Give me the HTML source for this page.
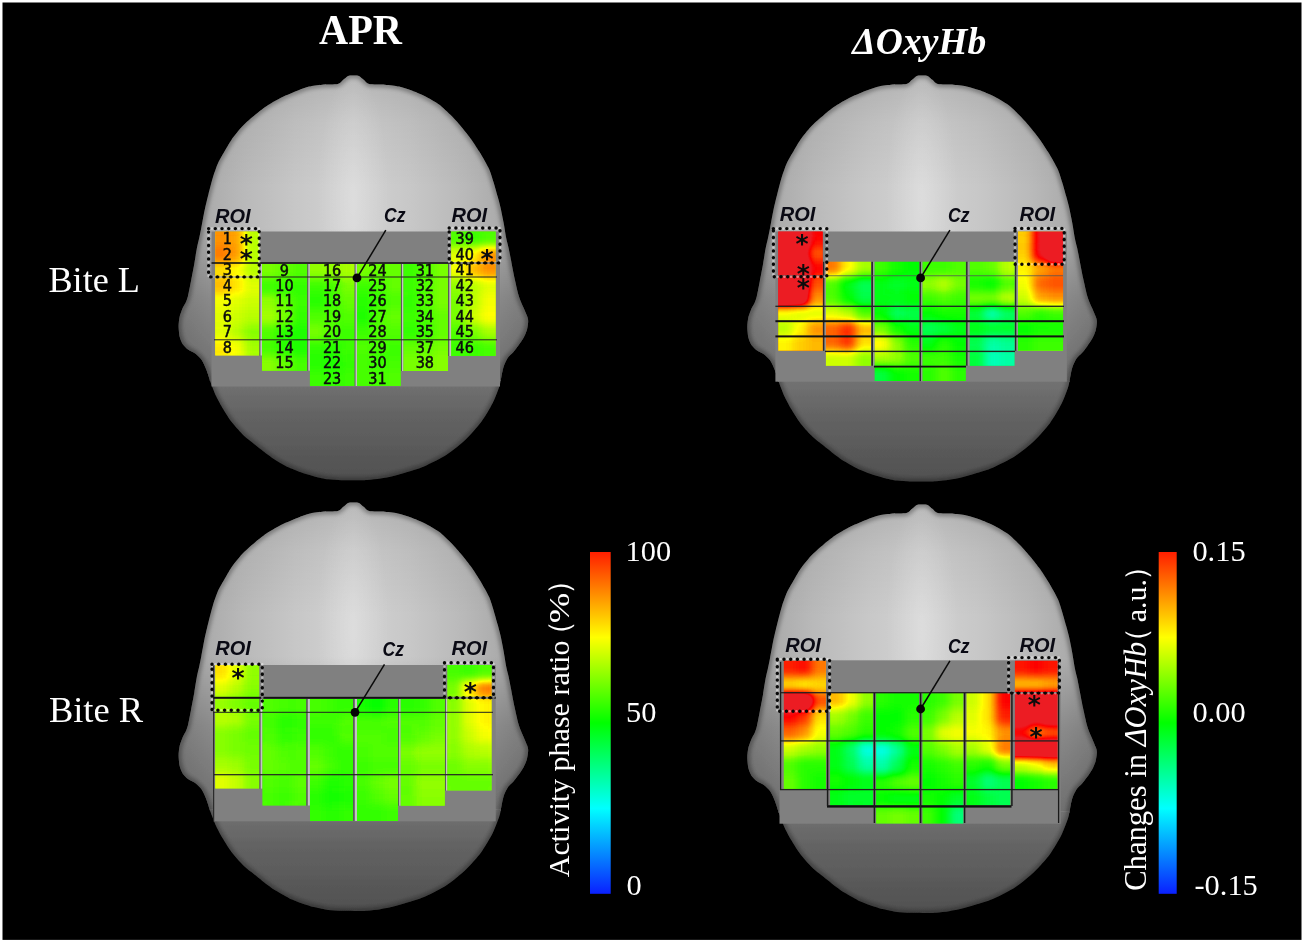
<!DOCTYPE html>
<html lang="en"><head><meta charset="utf-8"><title>APR and ΔOxyHb topographic maps</title>
<style>
html,body{margin:0;padding:0;background:#fff;}
body{width:1304px;height:943px;overflow:hidden;}
svg{display:block;}
.ser{font-family:"Liberation Serif","Times New Roman",serif;fill:#fff;}
.lab{font-family:"Liberation Sans",Arial,sans-serif;font-weight:bold;font-style:italic;font-size:20px;fill:#0a0a14;}
.num{font-family:"DejaVu Sans Condensed","DejaVu Sans","Liberation Sans",sans-serif;font-size:16px;fill:#0c0c0c;stroke:#0c0c0c;stroke-width:0.5px;text-anchor:middle;}
.star{font-family:"DejaVu Sans","Liberation Sans",sans-serif;font-size:25px;font-weight:bold;fill:#0c0c0c;text-anchor:middle;}
</style></head><body>
<svg width="1304" height="943" viewBox="0 0 1304 943">
<defs>
<path id="headshape" d="M353.5 75.4C354.9 75.4 357.6 75.3 358.9 75.9C360.2 76.5 362.7 79.0 364.0 80.0C365.3 81.0 366.5 83.4 369.1 84.0C371.7 84.6 381.3 84.4 385.0 84.7C388.7 85.0 395.8 85.9 399.0 86.6C402.2 87.3 407.8 89.1 411.0 90.3C414.2 91.5 421.0 94.2 424.5 96.0C428.0 97.8 435.6 102.0 439.0 104.5C442.4 107.0 448.8 113.2 451.7 116.1C454.6 119.0 459.7 124.9 462.1 127.8C464.6 130.7 469.2 136.6 471.3 139.5C473.4 142.4 477.4 148.6 479.1 151.3C480.8 154.0 483.5 158.7 484.8 161.0C486.1 163.3 488.4 167.4 489.5 170.0C490.6 172.6 492.5 178.8 493.5 182.0C494.5 185.2 496.6 192.9 497.5 196.0C498.4 199.1 499.6 203.6 500.4 206.9C501.2 210.2 502.9 218.7 503.6 222.6C504.3 226.5 505.6 234.8 506.2 238.0C506.8 241.2 508.0 245.1 508.6 248.0C509.2 250.9 510.5 257.4 511.2 261.1C511.9 264.9 513.6 273.9 514.5 278.0C515.4 282.1 517.4 291.0 518.2 294.0C519.0 297.0 520.3 300.3 521.0 302.0C521.7 303.7 522.9 306.1 523.6 307.8C524.3 309.5 526.3 314.0 526.9 315.6C527.5 317.2 528.2 319.1 528.2 320.9C528.2 322.7 527.5 327.9 526.9 330.0C526.3 332.1 524.7 335.9 523.6 337.8C522.5 339.8 519.7 343.8 518.4 345.6C517.1 347.4 514.5 350.7 513.2 352.2C511.9 353.7 509.1 355.8 508.0 357.4C506.9 359.0 504.8 363.2 504.1 365.2C503.4 367.1 502.5 371.0 502.1 373.0C501.7 375.0 501.0 379.2 500.6 381.0C500.2 382.8 500.0 384.7 499.0 387.5C498.0 390.3 494.9 398.8 492.7 403.1C490.5 407.4 484.6 417.6 481.2 422.1C477.8 426.6 470.2 435.2 465.9 439.3C461.6 443.4 452.1 451.2 446.9 454.6C441.7 458.0 429.1 464.3 424.0 466.5C418.9 468.7 410.3 471.1 406.5 472.3C402.7 473.5 396.7 475.2 393.4 476.0C390.1 476.8 383.7 478.1 380.4 478.6C377.1 479.1 370.6 479.8 367.3 480.0C364.0 480.2 357.2 480.3 354.0 480.3C350.8 480.3 344.5 480.3 341.3 480.2C338.1 480.1 331.5 479.7 328.2 479.3C324.9 478.9 318.4 477.5 315.2 476.7C311.9 475.9 305.5 473.9 302.2 472.8C298.9 471.7 292.4 469.2 289.1 467.6C285.8 466.1 279.4 462.5 276.1 460.4C272.8 458.3 266.1 453.4 263.0 451.0C259.9 448.6 253.6 443.6 251.0 441.5C248.4 439.4 244.6 436.3 242.2 433.9C239.8 431.5 234.1 425.2 231.7 422.1C229.3 419.0 225.1 412.4 223.2 409.1C221.2 405.9 217.7 399.5 216.1 396.1C214.5 392.7 211.7 385.3 210.5 382.0C209.3 378.7 207.4 372.2 206.3 369.5C205.2 366.8 203.1 362.0 201.7 360.0C200.3 358.0 196.9 354.8 195.2 353.5C193.5 352.2 189.6 350.6 188.0 349.5C186.4 348.4 183.9 345.9 182.8 344.3C181.8 342.7 180.1 338.8 179.6 336.5C179.1 334.2 178.6 328.5 178.6 326.1C178.6 323.7 179.1 319.3 179.6 317.0C180.1 314.7 182.1 309.6 182.8 307.8C183.5 306.1 184.8 304.5 185.5 303.0C186.2 301.5 187.3 298.8 188.0 296.0C188.7 293.2 190.3 284.6 191.1 280.6C191.9 276.6 193.6 267.8 194.3 263.7C195.0 259.6 196.3 251.2 196.9 248.0C197.5 244.8 198.6 240.5 199.2 238.0C199.8 235.5 200.6 231.2 201.3 227.8C202.0 224.4 203.6 215.0 204.5 210.8C205.4 206.6 207.4 198.1 208.5 193.9C209.6 189.7 212.1 180.0 213.0 177.0C213.9 174.0 214.7 171.9 215.4 170.0C216.1 168.1 217.4 164.2 218.5 162.0C219.6 159.8 222.2 155.4 223.9 152.6C225.6 149.8 229.4 142.8 231.7 139.5C234.0 136.2 239.3 129.6 242.2 126.5C245.1 123.4 251.9 117.5 255.2 114.8C258.4 112.1 264.8 107.2 268.2 105.0C271.6 102.8 278.3 99.0 282.0 97.2C285.7 95.4 294.6 91.8 298.0 90.5C301.4 89.2 306.1 87.3 309.1 86.6C312.1 85.9 318.6 85.0 322.2 84.7C325.8 84.4 335.2 84.6 337.8 84.0C340.4 83.4 341.7 81.0 343.0 80.0C344.3 79.0 346.8 76.5 348.1 75.9C349.4 75.3 352.1 75.4 353.5 75.4Z"/>
<clipPath id="headclip"><use href="#headshape"/></clipPath>
<linearGradient id="gbase" gradientUnits="userSpaceOnUse" x1="183" y1="0" x2="524" y2="0">
<stop offset="0" stop-color="#9e9e9e"/>
<stop offset="0.07" stop-color="#ababab"/>
<stop offset="0.18" stop-color="#b9b9b9"/>
<stop offset="0.33" stop-color="#c7c7c7"/>
<stop offset="0.5" stop-color="#d3d3d3"/>
<stop offset="0.67" stop-color="#c7c7c7"/>
<stop offset="0.82" stop-color="#b9b9b9"/>
<stop offset="0.93" stop-color="#ababab"/>
<stop offset="1" stop-color="#9e9e9e"/>
</linearGradient>
<linearGradient id="gtop" gradientUnits="userSpaceOnUse" x1="0" y1="75" x2="0" y2="235">
<stop offset="0" stop-color="#000" stop-opacity="0.13"/><stop offset="0.3" stop-color="#000" stop-opacity="0.05"/><stop offset="0.7" stop-color="#000" stop-opacity="0"/><stop offset="1" stop-color="#000" stop-opacity="0"/>
</linearGradient>
<linearGradient id="gside" gradientUnits="userSpaceOnUse" x1="0" y1="228" x2="0" y2="380">
<stop offset="0" stop-color="#000" stop-opacity="0"/><stop offset="0.45" stop-color="#000" stop-opacity="0.2"/><stop offset="1" stop-color="#000" stop-opacity="0.36"/>
</linearGradient>
<linearGradient id="glow" gradientUnits="userSpaceOnUse" x1="0" y1="380" x2="0" y2="481">
<stop offset="0" stop-color="#727272"/><stop offset="0.35" stop-color="#636363"/><stop offset="0.7" stop-color="#595959"/><stop offset="1" stop-color="#505050"/>
</linearGradient>
<radialGradient id="ghi" gradientUnits="userSpaceOnUse" cx="353" cy="200" r="100" gradientTransform="translate(353 200) scale(0.36 1.3) translate(-353 -200)">
<stop offset="0" stop-color="#fff" stop-opacity="0.22"/><stop offset="1" stop-color="#fff" stop-opacity="0"/></radialGradient>
<linearGradient id="gbar" x1="0" y1="0" x2="0" y2="1">
<stop offset="0" stop-color="#ff1e00"/>
<stop offset="0.25" stop-color="#ffff00"/>
<stop offset="0.5" stop-color="#00ff00"/>
<stop offset="0.75" stop-color="#00ffff"/>
<stop offset="1" stop-color="#0a20ff"/>
</linearGradient>
<filter id="bl" x="-30%" y="-30%" width="160%" height="160%" color-interpolation-filters="sRGB">
<feGaussianBlur stdDeviation="4.3"/>
<feComponentTransfer><feFuncR type="table" tableValues="0.000 0.000 0.000 0.000 0.000 0.000 0.000 0.000 0.000 0.000 0.000 0.200 0.400 0.600 0.800 1.000 1.000 1.000 1.000 1.000 0.996 0.929 0.929 0.929 0.929 0.929"/><feFuncG type="table" tableValues="0.000 0.200 0.400 0.600 0.800 1.000 1.000 1.000 1.000 1.000 1.000 1.000 1.000 1.000 1.000 1.000 0.800 0.600 0.400 0.200 0.000 0.110 0.110 0.110 0.110 0.110"/><feFuncB type="table" tableValues="1.000 1.000 1.000 1.000 1.000 1.000 0.800 0.600 0.400 0.200 0.000 0.000 0.000 0.000 0.000 0.000 0.000 0.000 0.000 0.000 0.000 0.141 0.141 0.141 0.141 0.141"/><feFuncA type="linear" slope="4" intercept="0"/></feComponentTransfer>
</filter>
<filter id="edge" x="-20%" y="-20%" width="140%" height="140%"><feGaussianBlur stdDeviation="2"/></filter>
<filter id="soft" x="-5%" y="-5%" width="110%" height="110%"><feGaussianBlur stdDeviation="0.6"/></filter>
<g id="head">
<g clip-path="url(#headclip)">
<rect x="170" y="70" width="370" height="311" fill="url(#gbase)"/>
<rect x="170" y="70" width="370" height="165" fill="url(#gtop)"/>
<rect x="170" y="70" width="370" height="310" fill="url(#ghi)"/>
<rect x="170" y="228" width="370" height="152" fill="url(#gside)"/>
<rect x="170" y="380" width="370" height="106" fill="url(#glow)"/>
<use href="#headshape" fill="none" stroke="#000" stroke-opacity="0.35" stroke-width="5" filter="url(#edge)"/>
</g>
</g>
</defs>
<rect x="0" y="0" width="1304" height="943" fill="#fff"/>
<rect x="2.5" y="2.5" width="1299" height="937.4" fill="#000"/>
<!-- h1 -->
<g filter="url(#soft)"><use href="#head" transform="translate(0.0 0.0) translate(0 75.5) scale(1 1.0000) translate(0 -75.5)"/></g>
<!-- h2 -->
<g filter="url(#soft)"><use href="#head" transform="translate(0.0 427.0) translate(0 75.5) scale(1 1.0090) translate(0 -75.5)"/></g>
<!-- h3 -->
<g filter="url(#soft)"><use href="#head" transform="translate(568.7 0.0) translate(0 75.5) scale(1 1.0030) translate(0 -75.5)"/></g>
<!-- h4 -->
<g filter="url(#soft)"><use href="#head" transform="translate(568.7 429.0) translate(0 75.5) scale(1 1.0090) translate(0 -75.5)"/></g>
<g id="h1-overlay">
<rect x="211.5" y="231.5" width="288.5" height="155.0" fill="#808080"/>
<rect x="259.2" y="264.0" width="1.3" height="91.5" fill="#5a5a5a"/>
<rect x="260.5" y="264.0" width="1.5" height="91.5" fill="#c4c4c4"/>
<rect x="307.1" y="264.0" width="1.3" height="106.7" fill="#5a5a5a"/>
<rect x="308.4" y="264.0" width="1.5" height="106.7" fill="#c4c4c4"/>
<rect x="354.4" y="264.0" width="1.2" height="122.0" fill="#5a5a5a"/>
<rect x="355.6" y="264.0" width="1.5" height="122.0" fill="#c4c4c4"/>
<rect x="400.7" y="264.0" width="1.3" height="107.0" fill="#5a5a5a"/>
<rect x="402.0" y="264.0" width="1.5" height="107.0" fill="#c4c4c4"/>
<rect x="448.0" y="264.0" width="1.4" height="92.0" fill="#5a5a5a"/>
<rect x="449.4" y="264.0" width="1.8" height="92.0" fill="#c4c4c4"/>
<clipPath id="c1"><rect x="215.2" y="231.5" width="44.0" height="124.0"/></clipPath>
<g clip-path="url(#c1)">
<rect x="215.2" y="231.5" width="44.0" height="124.0" fill="#f6ff00"/>
<g filter="url(#bl)">
<rect x="198.9" y="215.2" width="16.6" height="16.6" fill="#afafaf"/>
<rect x="214.9" y="215.2" width="15.3" height="16.6" fill="#afafaf"/>
<rect x="229.6" y="215.2" width="15.3" height="16.6" fill="#ababab"/>
<rect x="244.2" y="215.2" width="15.3" height="16.6" fill="#8b8b8b"/>
<rect x="258.9" y="215.2" width="16.6" height="16.6" fill="#8b8b8b"/>
<rect x="198.9" y="231.2" width="16.6" height="16.1" fill="#afafaf"/>
<rect x="214.9" y="231.2" width="15.3" height="16.1" fill="#afafaf"/>
<rect x="229.6" y="231.2" width="15.3" height="16.1" fill="#ababab"/>
<rect x="244.2" y="231.2" width="15.3" height="16.1" fill="#8b8b8b"/>
<rect x="258.9" y="231.2" width="16.6" height="16.1" fill="#8b8b8b"/>
<rect x="198.9" y="246.7" width="16.6" height="16.1" fill="#b4b4b4"/>
<rect x="214.9" y="246.7" width="15.3" height="16.1" fill="#b4b4b4"/>
<rect x="229.6" y="246.7" width="15.3" height="16.1" fill="#adadad"/>
<rect x="244.2" y="246.7" width="15.3" height="16.1" fill="#8b8b8b"/>
<rect x="258.9" y="246.7" width="16.6" height="16.1" fill="#8b8b8b"/>
<rect x="198.9" y="262.2" width="16.6" height="16.1" fill="#9f9f9f"/>
<rect x="214.9" y="262.2" width="15.3" height="16.1" fill="#9f9f9f"/>
<rect x="229.6" y="262.2" width="15.3" height="16.1" fill="#999999"/>
<rect x="244.2" y="262.2" width="15.3" height="16.1" fill="#8b8b8b"/>
<rect x="258.9" y="262.2" width="16.6" height="16.1" fill="#8b8b8b"/>
<rect x="198.9" y="277.7" width="16.6" height="16.1" fill="#a7a7a7"/>
<rect x="214.9" y="277.7" width="15.3" height="16.1" fill="#a7a7a7"/>
<rect x="229.6" y="277.7" width="15.3" height="16.1" fill="#9f9f9f"/>
<rect x="244.2" y="277.7" width="15.3" height="16.1" fill="#939393"/>
<rect x="258.9" y="277.7" width="16.6" height="16.1" fill="#939393"/>
<rect x="198.9" y="293.2" width="16.6" height="16.1" fill="#979797"/>
<rect x="214.9" y="293.2" width="15.3" height="16.1" fill="#979797"/>
<rect x="229.6" y="293.2" width="15.3" height="16.1" fill="#939393"/>
<rect x="244.2" y="293.2" width="15.3" height="16.1" fill="#8f8f8f"/>
<rect x="258.9" y="293.2" width="16.6" height="16.1" fill="#8f8f8f"/>
<rect x="198.9" y="308.7" width="16.6" height="16.1" fill="#939393"/>
<rect x="214.9" y="308.7" width="15.3" height="16.1" fill="#939393"/>
<rect x="229.6" y="308.7" width="15.3" height="16.1" fill="#8f8f8f"/>
<rect x="244.2" y="308.7" width="15.3" height="16.1" fill="#8b8b8b"/>
<rect x="258.9" y="308.7" width="16.6" height="16.1" fill="#8b8b8b"/>
<rect x="198.9" y="324.2" width="16.6" height="16.1" fill="#939393"/>
<rect x="214.9" y="324.2" width="15.3" height="16.1" fill="#939393"/>
<rect x="229.6" y="324.2" width="15.3" height="16.1" fill="#8b8b8b"/>
<rect x="244.2" y="324.2" width="15.3" height="16.1" fill="#818181"/>
<rect x="258.9" y="324.2" width="16.6" height="16.1" fill="#818181"/>
<rect x="198.9" y="339.7" width="16.6" height="16.1" fill="#9d9d9d"/>
<rect x="214.9" y="339.7" width="15.3" height="16.1" fill="#9d9d9d"/>
<rect x="229.6" y="339.7" width="15.3" height="16.1" fill="#979797"/>
<rect x="244.2" y="339.7" width="15.3" height="16.1" fill="#878787"/>
<rect x="258.9" y="339.7" width="16.6" height="16.1" fill="#878787"/>
<rect x="198.9" y="355.2" width="16.6" height="16.6" fill="#9d9d9d"/>
<rect x="214.9" y="355.2" width="15.3" height="16.6" fill="#9d9d9d"/>
<rect x="229.6" y="355.2" width="15.3" height="16.6" fill="#979797"/>
<rect x="244.2" y="355.2" width="15.3" height="16.6" fill="#878787"/>
<rect x="258.9" y="355.2" width="16.6" height="16.6" fill="#878787"/>
</g></g>
<clipPath id="c2"><rect x="262.0" y="264.0" width="45.1" height="106.7"/></clipPath>
<g clip-path="url(#c2)">
<rect x="262.0" y="264.0" width="45.1" height="106.7" fill="#52ff00"/>
<g filter="url(#bl)">
<rect x="245.7" y="247.7" width="16.6" height="16.6" fill="#7e7e7e"/>
<rect x="261.7" y="247.7" width="15.6" height="16.6" fill="#7e7e7e"/>
<rect x="276.7" y="247.7" width="15.6" height="16.6" fill="#7a7a7a"/>
<rect x="291.8" y="247.7" width="15.6" height="16.6" fill="#767676"/>
<rect x="306.8" y="247.7" width="16.6" height="16.6" fill="#767676"/>
<rect x="245.7" y="263.7" width="16.6" height="15.8" fill="#7e7e7e"/>
<rect x="261.7" y="263.7" width="15.6" height="15.8" fill="#7e7e7e"/>
<rect x="276.7" y="263.7" width="15.6" height="15.8" fill="#7a7a7a"/>
<rect x="291.8" y="263.7" width="15.6" height="15.8" fill="#767676"/>
<rect x="306.8" y="263.7" width="16.6" height="15.8" fill="#767676"/>
<rect x="245.7" y="278.9" width="16.6" height="15.8" fill="#727272"/>
<rect x="261.7" y="278.9" width="15.6" height="15.8" fill="#727272"/>
<rect x="276.7" y="278.9" width="15.6" height="15.8" fill="#707070"/>
<rect x="291.8" y="278.9" width="15.6" height="15.8" fill="#707070"/>
<rect x="306.8" y="278.9" width="16.6" height="15.8" fill="#707070"/>
<rect x="245.7" y="294.2" width="16.6" height="15.8" fill="#838383"/>
<rect x="261.7" y="294.2" width="15.6" height="15.8" fill="#838383"/>
<rect x="276.7" y="294.2" width="15.6" height="15.8" fill="#7a7a7a"/>
<rect x="291.8" y="294.2" width="15.6" height="15.8" fill="#727272"/>
<rect x="306.8" y="294.2" width="16.6" height="15.8" fill="#727272"/>
<rect x="245.7" y="309.4" width="16.6" height="15.8" fill="#878787"/>
<rect x="261.7" y="309.4" width="15.6" height="15.8" fill="#878787"/>
<rect x="276.7" y="309.4" width="15.6" height="15.8" fill="#7e7e7e"/>
<rect x="291.8" y="309.4" width="15.6" height="15.8" fill="#707070"/>
<rect x="306.8" y="309.4" width="16.6" height="15.8" fill="#707070"/>
<rect x="245.7" y="324.7" width="16.6" height="15.8" fill="#767676"/>
<rect x="261.7" y="324.7" width="15.6" height="15.8" fill="#767676"/>
<rect x="276.7" y="324.7" width="15.6" height="15.8" fill="#6e6e6e"/>
<rect x="291.8" y="324.7" width="15.6" height="15.8" fill="#6c6c6c"/>
<rect x="306.8" y="324.7" width="16.6" height="15.8" fill="#6c6c6c"/>
<rect x="245.7" y="339.9" width="16.6" height="15.8" fill="#747474"/>
<rect x="261.7" y="339.9" width="15.6" height="15.8" fill="#747474"/>
<rect x="276.7" y="339.9" width="15.6" height="15.8" fill="#6e6e6e"/>
<rect x="291.8" y="339.9" width="15.6" height="15.8" fill="#6c6c6c"/>
<rect x="306.8" y="339.9" width="16.6" height="15.8" fill="#6c6c6c"/>
<rect x="245.7" y="355.2" width="16.6" height="15.8" fill="#818181"/>
<rect x="261.7" y="355.2" width="15.6" height="15.8" fill="#818181"/>
<rect x="276.7" y="355.2" width="15.6" height="15.8" fill="#7a7a7a"/>
<rect x="291.8" y="355.2" width="15.6" height="15.8" fill="#747474"/>
<rect x="306.8" y="355.2" width="16.6" height="15.8" fill="#747474"/>
<rect x="245.7" y="370.4" width="16.6" height="16.6" fill="#818181"/>
<rect x="261.7" y="370.4" width="15.6" height="16.6" fill="#818181"/>
<rect x="276.7" y="370.4" width="15.6" height="16.6" fill="#7a7a7a"/>
<rect x="291.8" y="370.4" width="15.6" height="16.6" fill="#747474"/>
<rect x="306.8" y="370.4" width="16.6" height="16.6" fill="#747474"/>
</g></g>
<clipPath id="c3"><rect x="309.9" y="264.0" width="44.5" height="122.0"/></clipPath>
<g clip-path="url(#c3)">
<rect x="309.9" y="264.0" width="44.5" height="122.0" fill="#4eff00"/>
<g filter="url(#bl)">
<rect x="293.6" y="247.7" width="16.6" height="16.6" fill="#838383"/>
<rect x="309.6" y="247.7" width="15.4" height="16.6" fill="#838383"/>
<rect x="324.4" y="247.7" width="15.4" height="16.6" fill="#838383"/>
<rect x="339.3" y="247.7" width="15.4" height="16.6" fill="#878787"/>
<rect x="354.1" y="247.7" width="16.6" height="16.6" fill="#878787"/>
<rect x="293.6" y="263.7" width="16.6" height="15.8" fill="#838383"/>
<rect x="309.6" y="263.7" width="15.4" height="15.8" fill="#838383"/>
<rect x="324.4" y="263.7" width="15.4" height="15.8" fill="#838383"/>
<rect x="339.3" y="263.7" width="15.4" height="15.8" fill="#878787"/>
<rect x="354.1" y="263.7" width="16.6" height="15.8" fill="#878787"/>
<rect x="293.6" y="278.9" width="16.6" height="15.8" fill="#727272"/>
<rect x="309.6" y="278.9" width="15.4" height="15.8" fill="#727272"/>
<rect x="324.4" y="278.9" width="15.4" height="15.8" fill="#747474"/>
<rect x="339.3" y="278.9" width="15.4" height="15.8" fill="#7e7e7e"/>
<rect x="354.1" y="278.9" width="16.6" height="15.8" fill="#7e7e7e"/>
<rect x="293.6" y="294.2" width="16.6" height="15.8" fill="#6e6e6e"/>
<rect x="309.6" y="294.2" width="15.4" height="15.8" fill="#6e6e6e"/>
<rect x="324.4" y="294.2" width="15.4" height="15.8" fill="#727272"/>
<rect x="339.3" y="294.2" width="15.4" height="15.8" fill="#7a7a7a"/>
<rect x="354.1" y="294.2" width="16.6" height="15.8" fill="#7a7a7a"/>
<rect x="293.6" y="309.4" width="16.6" height="15.8" fill="#767676"/>
<rect x="309.6" y="309.4" width="15.4" height="15.8" fill="#767676"/>
<rect x="324.4" y="309.4" width="15.4" height="15.8" fill="#767676"/>
<rect x="339.3" y="309.4" width="15.4" height="15.8" fill="#767676"/>
<rect x="354.1" y="309.4" width="16.6" height="15.8" fill="#767676"/>
<rect x="293.6" y="324.7" width="16.6" height="15.8" fill="#7e7e7e"/>
<rect x="309.6" y="324.7" width="15.4" height="15.8" fill="#7e7e7e"/>
<rect x="324.4" y="324.7" width="15.4" height="15.8" fill="#767676"/>
<rect x="339.3" y="324.7" width="15.4" height="15.8" fill="#727272"/>
<rect x="354.1" y="324.7" width="16.6" height="15.8" fill="#727272"/>
<rect x="293.6" y="339.9" width="16.6" height="15.8" fill="#707070"/>
<rect x="309.6" y="339.9" width="15.4" height="15.8" fill="#707070"/>
<rect x="324.4" y="339.9" width="15.4" height="15.8" fill="#6e6e6e"/>
<rect x="339.3" y="339.9" width="15.4" height="15.8" fill="#727272"/>
<rect x="354.1" y="339.9" width="16.6" height="15.8" fill="#727272"/>
<rect x="293.6" y="355.2" width="16.6" height="15.8" fill="#6e6e6e"/>
<rect x="309.6" y="355.2" width="15.4" height="15.8" fill="#6e6e6e"/>
<rect x="324.4" y="355.2" width="15.4" height="15.8" fill="#6c6c6c"/>
<rect x="339.3" y="355.2" width="15.4" height="15.8" fill="#707070"/>
<rect x="354.1" y="355.2" width="16.6" height="15.8" fill="#707070"/>
<rect x="293.6" y="370.4" width="16.6" height="15.8" fill="#727272"/>
<rect x="309.6" y="370.4" width="15.4" height="15.8" fill="#727272"/>
<rect x="324.4" y="370.4" width="15.4" height="15.8" fill="#707070"/>
<rect x="339.3" y="370.4" width="15.4" height="15.8" fill="#727272"/>
<rect x="354.1" y="370.4" width="16.6" height="15.8" fill="#727272"/>
<rect x="293.6" y="385.7" width="16.6" height="16.6" fill="#727272"/>
<rect x="309.6" y="385.7" width="15.4" height="16.6" fill="#727272"/>
<rect x="324.4" y="385.7" width="15.4" height="16.6" fill="#707070"/>
<rect x="339.3" y="385.7" width="15.4" height="16.6" fill="#727272"/>
<rect x="354.1" y="385.7" width="16.6" height="16.6" fill="#727272"/>
</g></g>
<clipPath id="c4"><rect x="357.1" y="264.0" width="43.6" height="122.0"/></clipPath>
<g clip-path="url(#c4)">
<rect x="357.1" y="264.0" width="43.6" height="122.0" fill="#4cff00"/>
<g filter="url(#bl)">
<rect x="340.8" y="247.7" width="16.6" height="16.6" fill="#7e7e7e"/>
<rect x="356.8" y="247.7" width="15.1" height="16.6" fill="#7e7e7e"/>
<rect x="371.3" y="247.7" width="15.1" height="16.6" fill="#7a7a7a"/>
<rect x="385.9" y="247.7" width="15.1" height="16.6" fill="#7a7a7a"/>
<rect x="400.4" y="247.7" width="16.6" height="16.6" fill="#7a7a7a"/>
<rect x="340.8" y="263.7" width="16.6" height="15.8" fill="#7e7e7e"/>
<rect x="356.8" y="263.7" width="15.1" height="15.8" fill="#7e7e7e"/>
<rect x="371.3" y="263.7" width="15.1" height="15.8" fill="#7a7a7a"/>
<rect x="385.9" y="263.7" width="15.1" height="15.8" fill="#7a7a7a"/>
<rect x="400.4" y="263.7" width="16.6" height="15.8" fill="#7a7a7a"/>
<rect x="340.8" y="278.9" width="16.6" height="15.8" fill="#727272"/>
<rect x="356.8" y="278.9" width="15.1" height="15.8" fill="#727272"/>
<rect x="371.3" y="278.9" width="15.1" height="15.8" fill="#747474"/>
<rect x="385.9" y="278.9" width="15.1" height="15.8" fill="#7a7a7a"/>
<rect x="400.4" y="278.9" width="16.6" height="15.8" fill="#7a7a7a"/>
<rect x="340.8" y="294.2" width="16.6" height="15.8" fill="#6e6e6e"/>
<rect x="356.8" y="294.2" width="15.1" height="15.8" fill="#6e6e6e"/>
<rect x="371.3" y="294.2" width="15.1" height="15.8" fill="#727272"/>
<rect x="385.9" y="294.2" width="15.1" height="15.8" fill="#767676"/>
<rect x="400.4" y="294.2" width="16.6" height="15.8" fill="#767676"/>
<rect x="340.8" y="309.4" width="16.6" height="15.8" fill="#6c6c6c"/>
<rect x="356.8" y="309.4" width="15.1" height="15.8" fill="#6c6c6c"/>
<rect x="371.3" y="309.4" width="15.1" height="15.8" fill="#767676"/>
<rect x="385.9" y="309.4" width="15.1" height="15.8" fill="#7a7a7a"/>
<rect x="400.4" y="309.4" width="16.6" height="15.8" fill="#7a7a7a"/>
<rect x="340.8" y="324.7" width="16.6" height="15.8" fill="#727272"/>
<rect x="356.8" y="324.7" width="15.1" height="15.8" fill="#727272"/>
<rect x="371.3" y="324.7" width="15.1" height="15.8" fill="#767676"/>
<rect x="385.9" y="324.7" width="15.1" height="15.8" fill="#767676"/>
<rect x="400.4" y="324.7" width="16.6" height="15.8" fill="#767676"/>
<rect x="340.8" y="339.9" width="16.6" height="15.8" fill="#767676"/>
<rect x="356.8" y="339.9" width="15.1" height="15.8" fill="#767676"/>
<rect x="371.3" y="339.9" width="15.1" height="15.8" fill="#747474"/>
<rect x="385.9" y="339.9" width="15.1" height="15.8" fill="#727272"/>
<rect x="400.4" y="339.9" width="16.6" height="15.8" fill="#727272"/>
<rect x="340.8" y="355.2" width="16.6" height="15.8" fill="#747474"/>
<rect x="356.8" y="355.2" width="15.1" height="15.8" fill="#747474"/>
<rect x="371.3" y="355.2" width="15.1" height="15.8" fill="#727272"/>
<rect x="385.9" y="355.2" width="15.1" height="15.8" fill="#747474"/>
<rect x="400.4" y="355.2" width="16.6" height="15.8" fill="#747474"/>
<rect x="340.8" y="370.4" width="16.6" height="15.8" fill="#747474"/>
<rect x="356.8" y="370.4" width="15.1" height="15.8" fill="#747474"/>
<rect x="371.3" y="370.4" width="15.1" height="15.8" fill="#747474"/>
<rect x="385.9" y="370.4" width="15.1" height="15.8" fill="#767676"/>
<rect x="400.4" y="370.4" width="16.6" height="15.8" fill="#767676"/>
<rect x="340.8" y="385.7" width="16.6" height="16.6" fill="#747474"/>
<rect x="356.8" y="385.7" width="15.1" height="16.6" fill="#747474"/>
<rect x="371.3" y="385.7" width="15.1" height="16.6" fill="#747474"/>
<rect x="385.9" y="385.7" width="15.1" height="16.6" fill="#767676"/>
<rect x="400.4" y="385.7" width="16.6" height="16.6" fill="#767676"/>
</g></g>
<clipPath id="c5"><rect x="403.5" y="264.0" width="44.5" height="107.0"/></clipPath>
<g clip-path="url(#c5)">
<rect x="403.5" y="264.0" width="44.5" height="107.0" fill="#5cff00"/>
<g filter="url(#bl)">
<rect x="387.2" y="247.7" width="16.6" height="16.6" fill="#727272"/>
<rect x="403.2" y="247.7" width="15.4" height="16.6" fill="#727272"/>
<rect x="418.0" y="247.7" width="15.4" height="16.6" fill="#767676"/>
<rect x="432.9" y="247.7" width="15.4" height="16.6" fill="#7e7e7e"/>
<rect x="447.7" y="247.7" width="16.6" height="16.6" fill="#7e7e7e"/>
<rect x="387.2" y="263.7" width="16.6" height="15.9" fill="#727272"/>
<rect x="403.2" y="263.7" width="15.4" height="15.9" fill="#727272"/>
<rect x="418.0" y="263.7" width="15.4" height="15.9" fill="#767676"/>
<rect x="432.9" y="263.7" width="15.4" height="15.9" fill="#7e7e7e"/>
<rect x="447.7" y="263.7" width="16.6" height="15.9" fill="#7e7e7e"/>
<rect x="387.2" y="279.0" width="16.6" height="15.9" fill="#727272"/>
<rect x="403.2" y="279.0" width="15.4" height="15.9" fill="#727272"/>
<rect x="418.0" y="279.0" width="15.4" height="15.9" fill="#767676"/>
<rect x="432.9" y="279.0" width="15.4" height="15.9" fill="#7e7e7e"/>
<rect x="447.7" y="279.0" width="16.6" height="15.9" fill="#7e7e7e"/>
<rect x="387.2" y="294.3" width="16.6" height="15.9" fill="#707070"/>
<rect x="403.2" y="294.3" width="15.4" height="15.9" fill="#707070"/>
<rect x="418.0" y="294.3" width="15.4" height="15.9" fill="#767676"/>
<rect x="432.9" y="294.3" width="15.4" height="15.9" fill="#7e7e7e"/>
<rect x="447.7" y="294.3" width="16.6" height="15.9" fill="#7e7e7e"/>
<rect x="387.2" y="309.6" width="16.6" height="15.9" fill="#727272"/>
<rect x="403.2" y="309.6" width="15.4" height="15.9" fill="#727272"/>
<rect x="418.0" y="309.6" width="15.4" height="15.9" fill="#747474"/>
<rect x="432.9" y="309.6" width="15.4" height="15.9" fill="#7a7a7a"/>
<rect x="447.7" y="309.6" width="16.6" height="15.9" fill="#7a7a7a"/>
<rect x="387.2" y="324.8" width="16.6" height="15.9" fill="#707070"/>
<rect x="403.2" y="324.8" width="15.4" height="15.9" fill="#707070"/>
<rect x="418.0" y="324.8" width="15.4" height="15.9" fill="#727272"/>
<rect x="432.9" y="324.8" width="15.4" height="15.9" fill="#7a7a7a"/>
<rect x="447.7" y="324.8" width="16.6" height="15.9" fill="#7a7a7a"/>
<rect x="387.2" y="340.1" width="16.6" height="15.9" fill="#7a7a7a"/>
<rect x="403.2" y="340.1" width="15.4" height="15.9" fill="#7a7a7a"/>
<rect x="418.0" y="340.1" width="15.4" height="15.9" fill="#7a7a7a"/>
<rect x="432.9" y="340.1" width="15.4" height="15.9" fill="#7e7e7e"/>
<rect x="447.7" y="340.1" width="16.6" height="15.9" fill="#7e7e7e"/>
<rect x="387.2" y="355.4" width="16.6" height="15.9" fill="#7e7e7e"/>
<rect x="403.2" y="355.4" width="15.4" height="15.9" fill="#7e7e7e"/>
<rect x="418.0" y="355.4" width="15.4" height="15.9" fill="#7e7e7e"/>
<rect x="432.9" y="355.4" width="15.4" height="15.9" fill="#818181"/>
<rect x="447.7" y="355.4" width="16.6" height="15.9" fill="#818181"/>
<rect x="387.2" y="370.7" width="16.6" height="16.6" fill="#7e7e7e"/>
<rect x="403.2" y="370.7" width="15.4" height="16.6" fill="#7e7e7e"/>
<rect x="418.0" y="370.7" width="15.4" height="16.6" fill="#7e7e7e"/>
<rect x="432.9" y="370.7" width="15.4" height="16.6" fill="#818181"/>
<rect x="447.7" y="370.7" width="16.6" height="16.6" fill="#818181"/>
</g></g>
<clipPath id="c6"><rect x="451.2" y="231.5" width="44.5" height="124.5"/></clipPath>
<g clip-path="url(#c6)">
<rect x="451.2" y="231.5" width="44.5" height="124.5" fill="#b2ff00"/>
<g filter="url(#bl)">
<rect x="434.9" y="215.2" width="16.6" height="16.6" fill="#767676"/>
<rect x="450.9" y="215.2" width="15.4" height="16.6" fill="#767676"/>
<rect x="465.7" y="215.2" width="15.4" height="16.6" fill="#727272"/>
<rect x="480.6" y="215.2" width="15.4" height="16.6" fill="#767676"/>
<rect x="495.4" y="215.2" width="16.6" height="16.6" fill="#767676"/>
<rect x="434.9" y="231.2" width="16.6" height="16.2" fill="#767676"/>
<rect x="450.9" y="231.2" width="15.4" height="16.2" fill="#767676"/>
<rect x="465.7" y="231.2" width="15.4" height="16.2" fill="#727272"/>
<rect x="480.6" y="231.2" width="15.4" height="16.2" fill="#767676"/>
<rect x="495.4" y="231.2" width="16.6" height="16.2" fill="#767676"/>
<rect x="434.9" y="246.8" width="16.6" height="16.2" fill="#939393"/>
<rect x="450.9" y="246.8" width="15.4" height="16.2" fill="#939393"/>
<rect x="465.7" y="246.8" width="15.4" height="16.2" fill="#9b9b9b"/>
<rect x="480.6" y="246.8" width="15.4" height="16.2" fill="#afafaf"/>
<rect x="495.4" y="246.8" width="16.6" height="16.2" fill="#afafaf"/>
<rect x="434.9" y="262.3" width="16.6" height="16.2" fill="#979797"/>
<rect x="450.9" y="262.3" width="15.4" height="16.2" fill="#979797"/>
<rect x="465.7" y="262.3" width="15.4" height="16.2" fill="#a7a7a7"/>
<rect x="480.6" y="262.3" width="15.4" height="16.2" fill="#afafaf"/>
<rect x="495.4" y="262.3" width="16.6" height="16.2" fill="#afafaf"/>
<rect x="434.9" y="277.9" width="16.6" height="16.2" fill="#838383"/>
<rect x="450.9" y="277.9" width="15.4" height="16.2" fill="#838383"/>
<rect x="465.7" y="277.9" width="15.4" height="16.2" fill="#8b8b8b"/>
<rect x="480.6" y="277.9" width="15.4" height="16.2" fill="#939393"/>
<rect x="495.4" y="277.9" width="16.6" height="16.2" fill="#939393"/>
<rect x="434.9" y="293.4" width="16.6" height="16.2" fill="#7e7e7e"/>
<rect x="450.9" y="293.4" width="15.4" height="16.2" fill="#7e7e7e"/>
<rect x="465.7" y="293.4" width="15.4" height="16.2" fill="#8b8b8b"/>
<rect x="480.6" y="293.4" width="15.4" height="16.2" fill="#979797"/>
<rect x="495.4" y="293.4" width="16.6" height="16.2" fill="#979797"/>
<rect x="434.9" y="309.0" width="16.6" height="16.2" fill="#7e7e7e"/>
<rect x="450.9" y="309.0" width="15.4" height="16.2" fill="#7e7e7e"/>
<rect x="465.7" y="309.0" width="15.4" height="16.2" fill="#8f8f8f"/>
<rect x="480.6" y="309.0" width="15.4" height="16.2" fill="#999999"/>
<rect x="495.4" y="309.0" width="16.6" height="16.2" fill="#999999"/>
<rect x="434.9" y="324.6" width="16.6" height="16.2" fill="#767676"/>
<rect x="450.9" y="324.6" width="15.4" height="16.2" fill="#767676"/>
<rect x="465.7" y="324.6" width="15.4" height="16.2" fill="#7e7e7e"/>
<rect x="480.6" y="324.6" width="15.4" height="16.2" fill="#878787"/>
<rect x="495.4" y="324.6" width="16.6" height="16.2" fill="#878787"/>
<rect x="434.9" y="340.1" width="16.6" height="16.2" fill="#727272"/>
<rect x="450.9" y="340.1" width="15.4" height="16.2" fill="#727272"/>
<rect x="465.7" y="340.1" width="15.4" height="16.2" fill="#727272"/>
<rect x="480.6" y="340.1" width="15.4" height="16.2" fill="#747474"/>
<rect x="495.4" y="340.1" width="16.6" height="16.2" fill="#747474"/>
<rect x="434.9" y="355.7" width="16.6" height="16.6" fill="#727272"/>
<rect x="450.9" y="355.7" width="15.4" height="16.6" fill="#727272"/>
<rect x="465.7" y="355.7" width="15.4" height="16.6" fill="#727272"/>
<rect x="480.6" y="355.7" width="15.4" height="16.6" fill="#747474"/>
<rect x="495.4" y="355.7" width="16.6" height="16.6" fill="#747474"/>
</g></g>
<rect x="211.5" y="262.20" width="288.5" height="1.60" fill="#151515"/>
<rect x="211.5" y="276.50" width="285.5" height="1.00" fill="#222"/>
<rect x="214.0" y="339.30" width="283.0" height="1.00" fill="#222"/>
<text class="num" x="227.3" y="244.4">1</text>
<text class="num" x="227.3" y="259.8">2</text>
<text class="num" x="227.3" y="275.3">3</text>
<text class="num" x="227.3" y="290.8">4</text>
<text class="num" x="227.3" y="306.2">5</text>
<text class="num" x="227.3" y="321.7">6</text>
<text class="num" x="227.3" y="337.1">7</text>
<text class="num" x="227.3" y="352.6">8</text>
<text class="num" x="284.4" y="275.5">9</text>
<text class="num" x="284.4" y="290.9">10</text>
<text class="num" x="284.4" y="306.4">11</text>
<text class="num" x="284.4" y="321.8">12</text>
<text class="num" x="284.4" y="337.3">13</text>
<text class="num" x="284.4" y="352.8">14</text>
<text class="num" x="284.4" y="368.2">15</text>
<text class="num" x="332.1" y="275.5">16</text>
<text class="num" x="332.1" y="290.9">17</text>
<text class="num" x="332.1" y="306.4">18</text>
<text class="num" x="332.1" y="321.8">19</text>
<text class="num" x="332.1" y="337.3">20</text>
<text class="num" x="332.1" y="352.8">21</text>
<text class="num" x="332.1" y="368.2">22</text>
<text class="num" x="332.1" y="383.6">23</text>
<text class="num" x="377.5" y="275.5">24</text>
<text class="num" x="377.5" y="290.9">25</text>
<text class="num" x="377.5" y="306.4">26</text>
<text class="num" x="377.5" y="321.8">27</text>
<text class="num" x="377.5" y="337.3">28</text>
<text class="num" x="377.5" y="352.8">29</text>
<text class="num" x="377.5" y="368.2">30</text>
<text class="num" x="377.5" y="383.6">31</text>
<text class="num" x="424.8" y="275.5">31</text>
<text class="num" x="424.8" y="290.9">32</text>
<text class="num" x="424.8" y="306.4">33</text>
<text class="num" x="424.8" y="321.8">34</text>
<text class="num" x="424.8" y="337.3">35</text>
<text class="num" x="424.8" y="352.8">37</text>
<text class="num" x="424.8" y="368.2">38</text>
<text class="num" x="464.7" y="244.4">39</text>
<text class="num" x="464.7" y="259.8">40</text>
<text class="num" x="464.7" y="275.3">41</text>
<text class="num" x="464.7" y="290.8">42</text>
<text class="num" x="464.7" y="306.2">43</text>
<text class="num" x="464.7" y="321.7">44</text>
<text class="num" x="464.7" y="337.1">45</text>
<text class="num" x="464.7" y="352.6">46</text>
<rect x="208.6" y="228.6" width="50.6" height="48.3" fill="none" stroke="#fff" stroke-opacity="0.45" stroke-width="2.6" stroke-linecap="round" stroke-dasharray="0 6.7" stroke-dashoffset="3.35"/>
<rect x="208.6" y="228.6" width="50.6" height="48.3" fill="none" stroke="#080808" stroke-width="3.4" stroke-linecap="round" stroke-dasharray="0 6.7"/>
<rect x="449.2" y="228.0" width="50.8" height="34.9" fill="none" stroke="#fff" stroke-opacity="0.45" stroke-width="2.6" stroke-linecap="round" stroke-dasharray="0 6.7" stroke-dashoffset="3.35"/>
<rect x="449.2" y="228.0" width="50.8" height="34.9" fill="none" stroke="#080808" stroke-width="3.4" stroke-linecap="round" stroke-dasharray="0 6.7"/>
<text class="lab" x="215.0" y="223.0">ROI</text>
<text class="lab" x="451.5" y="221.5">ROI</text>
<text class="lab" x="384.0" y="222.0" textLength="21.5" lengthAdjust="spacingAndGlyphs">Cz</text>
<line x1="385.8" y1="230.2" x2="357.0" y2="277.9" stroke="#0a0a0a" stroke-width="1.5"/>
<circle cx="357.0" cy="277.9" r="4.4" fill="#050505"/>
<text class="star" x="246.2" y="251.6">*</text>
<text class="star" x="246.2" y="267.1">*</text>
<text class="star" x="487.0" y="267.1">*</text>
</g>
<g id="h2-overlay">
<rect x="213.4" y="665.0" width="282.3" height="156.3" fill="#808080"/>
<rect x="259.2" y="699.0" width="1.5" height="89.6" fill="#5a5a5a"/>
<rect x="260.7" y="699.0" width="1.8" height="89.6" fill="#c4c4c4"/>
<rect x="306.1" y="699.0" width="1.7" height="106.5" fill="#5a5a5a"/>
<rect x="307.8" y="699.0" width="2.1" height="106.5" fill="#c4c4c4"/>
<rect x="352.9" y="699.0" width="1.9" height="121.9" fill="#5a5a5a"/>
<rect x="354.8" y="699.0" width="2.3" height="121.9" fill="#c4c4c4"/>
<rect x="397.9" y="699.0" width="1.3" height="106.7" fill="#5a5a5a"/>
<rect x="399.2" y="699.0" width="1.5" height="106.7" fill="#c4c4c4"/>
<rect x="444.8" y="699.0" width="1.2" height="91.5" fill="#5a5a5a"/>
<rect x="446.0" y="699.0" width="1.4" height="91.5" fill="#c4c4c4"/>
<clipPath id="c7"><rect x="215.2" y="665.0" width="44.0" height="123.6"/></clipPath>
<g clip-path="url(#c7)">
<rect x="215.2" y="665.0" width="44.0" height="123.6" fill="#9cff00"/>
<g filter="url(#bl)">
<rect x="198.9" y="648.7" width="16.6" height="16.6" fill="#9f9f9f"/>
<rect x="214.9" y="648.7" width="15.3" height="16.6" fill="#9f9f9f"/>
<rect x="229.6" y="648.7" width="15.3" height="16.6" fill="#939393"/>
<rect x="244.2" y="648.7" width="15.3" height="16.6" fill="#838383"/>
<rect x="258.9" y="648.7" width="16.6" height="16.6" fill="#838383"/>
<rect x="198.9" y="664.7" width="16.6" height="16.1" fill="#9f9f9f"/>
<rect x="214.9" y="664.7" width="15.3" height="16.1" fill="#9f9f9f"/>
<rect x="229.6" y="664.7" width="15.3" height="16.1" fill="#939393"/>
<rect x="244.2" y="664.7" width="15.3" height="16.1" fill="#838383"/>
<rect x="258.9" y="664.7" width="16.6" height="16.1" fill="#838383"/>
<rect x="198.9" y="680.2" width="16.6" height="16.0" fill="#939393"/>
<rect x="214.9" y="680.2" width="15.3" height="16.0" fill="#939393"/>
<rect x="229.6" y="680.2" width="15.3" height="16.0" fill="#8b8b8b"/>
<rect x="244.2" y="680.2" width="15.3" height="16.0" fill="#818181"/>
<rect x="258.9" y="680.2" width="16.6" height="16.0" fill="#818181"/>
<rect x="198.9" y="695.6" width="16.6" height="16.1" fill="#838383"/>
<rect x="214.9" y="695.6" width="15.3" height="16.1" fill="#838383"/>
<rect x="229.6" y="695.6" width="15.3" height="16.1" fill="#7e7e7e"/>
<rect x="244.2" y="695.6" width="15.3" height="16.1" fill="#7a7a7a"/>
<rect x="258.9" y="695.6" width="16.6" height="16.1" fill="#7a7a7a"/>
<rect x="198.9" y="711.1" width="16.6" height="16.0" fill="#8b8b8b"/>
<rect x="214.9" y="711.1" width="15.3" height="16.0" fill="#8b8b8b"/>
<rect x="229.6" y="711.1" width="15.3" height="16.0" fill="#898989"/>
<rect x="244.2" y="711.1" width="15.3" height="16.0" fill="#7e7e7e"/>
<rect x="258.9" y="711.1" width="16.6" height="16.0" fill="#7e7e7e"/>
<rect x="198.9" y="726.5" width="16.6" height="16.1" fill="#818181"/>
<rect x="214.9" y="726.5" width="15.3" height="16.1" fill="#818181"/>
<rect x="229.6" y="726.5" width="15.3" height="16.1" fill="#7e7e7e"/>
<rect x="244.2" y="726.5" width="15.3" height="16.1" fill="#7a7a7a"/>
<rect x="258.9" y="726.5" width="16.6" height="16.1" fill="#7a7a7a"/>
<rect x="198.9" y="742.0" width="16.6" height="16.1" fill="#818181"/>
<rect x="214.9" y="742.0" width="15.3" height="16.1" fill="#818181"/>
<rect x="229.6" y="742.0" width="15.3" height="16.1" fill="#7e7e7e"/>
<rect x="244.2" y="742.0" width="15.3" height="16.1" fill="#7c7c7c"/>
<rect x="258.9" y="742.0" width="16.6" height="16.1" fill="#7c7c7c"/>
<rect x="198.9" y="757.4" width="16.6" height="16.0" fill="#878787"/>
<rect x="214.9" y="757.4" width="15.3" height="16.0" fill="#878787"/>
<rect x="229.6" y="757.4" width="15.3" height="16.0" fill="#858585"/>
<rect x="244.2" y="757.4" width="15.3" height="16.0" fill="#7e7e7e"/>
<rect x="258.9" y="757.4" width="16.6" height="16.0" fill="#7e7e7e"/>
<rect x="198.9" y="772.9" width="16.6" height="16.1" fill="#939393"/>
<rect x="214.9" y="772.9" width="15.3" height="16.1" fill="#939393"/>
<rect x="229.6" y="772.9" width="15.3" height="16.1" fill="#8d8d8d"/>
<rect x="244.2" y="772.9" width="15.3" height="16.1" fill="#818181"/>
<rect x="258.9" y="772.9" width="16.6" height="16.1" fill="#818181"/>
<rect x="198.9" y="788.3" width="16.6" height="16.6" fill="#939393"/>
<rect x="214.9" y="788.3" width="15.3" height="16.6" fill="#939393"/>
<rect x="229.6" y="788.3" width="15.3" height="16.6" fill="#8d8d8d"/>
<rect x="244.2" y="788.3" width="15.3" height="16.6" fill="#818181"/>
<rect x="258.9" y="788.3" width="16.6" height="16.6" fill="#818181"/>
</g></g>
<clipPath id="c8"><rect x="262.5" y="699.0" width="43.6" height="106.5"/></clipPath>
<g clip-path="url(#c8)">
<rect x="262.5" y="699.0" width="43.6" height="106.5" fill="#4bff00"/>
<g filter="url(#bl)">
<rect x="246.2" y="682.7" width="16.6" height="16.6" fill="#767676"/>
<rect x="262.2" y="682.7" width="15.1" height="16.6" fill="#767676"/>
<rect x="276.7" y="682.7" width="15.1" height="16.6" fill="#747474"/>
<rect x="291.3" y="682.7" width="15.1" height="16.6" fill="#747474"/>
<rect x="305.8" y="682.7" width="16.6" height="16.6" fill="#747474"/>
<rect x="246.2" y="698.7" width="16.6" height="15.8" fill="#767676"/>
<rect x="262.2" y="698.7" width="15.1" height="15.8" fill="#767676"/>
<rect x="276.7" y="698.7" width="15.1" height="15.8" fill="#747474"/>
<rect x="291.3" y="698.7" width="15.1" height="15.8" fill="#747474"/>
<rect x="305.8" y="698.7" width="16.6" height="15.8" fill="#747474"/>
<rect x="246.2" y="713.9" width="16.6" height="15.8" fill="#747474"/>
<rect x="262.2" y="713.9" width="15.1" height="15.8" fill="#747474"/>
<rect x="276.7" y="713.9" width="15.1" height="15.8" fill="#6e6e6e"/>
<rect x="291.3" y="713.9" width="15.1" height="15.8" fill="#707070"/>
<rect x="305.8" y="713.9" width="16.6" height="15.8" fill="#707070"/>
<rect x="246.2" y="729.1" width="16.6" height="15.8" fill="#767676"/>
<rect x="262.2" y="729.1" width="15.1" height="15.8" fill="#767676"/>
<rect x="276.7" y="729.1" width="15.1" height="15.8" fill="#707070"/>
<rect x="291.3" y="729.1" width="15.1" height="15.8" fill="#727272"/>
<rect x="305.8" y="729.1" width="16.6" height="15.8" fill="#727272"/>
<rect x="246.2" y="744.3" width="16.6" height="15.8" fill="#7a7a7a"/>
<rect x="262.2" y="744.3" width="15.1" height="15.8" fill="#7a7a7a"/>
<rect x="276.7" y="744.3" width="15.1" height="15.8" fill="#767676"/>
<rect x="291.3" y="744.3" width="15.1" height="15.8" fill="#767676"/>
<rect x="305.8" y="744.3" width="16.6" height="15.8" fill="#767676"/>
<rect x="246.2" y="759.6" width="16.6" height="15.8" fill="#7a7a7a"/>
<rect x="262.2" y="759.6" width="15.1" height="15.8" fill="#7a7a7a"/>
<rect x="276.7" y="759.6" width="15.1" height="15.8" fill="#787878"/>
<rect x="291.3" y="759.6" width="15.1" height="15.8" fill="#767676"/>
<rect x="305.8" y="759.6" width="16.6" height="15.8" fill="#767676"/>
<rect x="246.2" y="774.8" width="16.6" height="15.8" fill="#767676"/>
<rect x="262.2" y="774.8" width="15.1" height="15.8" fill="#767676"/>
<rect x="276.7" y="774.8" width="15.1" height="15.8" fill="#747474"/>
<rect x="291.3" y="774.8" width="15.1" height="15.8" fill="#787878"/>
<rect x="305.8" y="774.8" width="16.6" height="15.8" fill="#787878"/>
<rect x="246.2" y="790.0" width="16.6" height="15.8" fill="#747474"/>
<rect x="262.2" y="790.0" width="15.1" height="15.8" fill="#747474"/>
<rect x="276.7" y="790.0" width="15.1" height="15.8" fill="#727272"/>
<rect x="291.3" y="790.0" width="15.1" height="15.8" fill="#767676"/>
<rect x="305.8" y="790.0" width="16.6" height="15.8" fill="#767676"/>
<rect x="246.2" y="805.2" width="16.6" height="16.6" fill="#747474"/>
<rect x="262.2" y="805.2" width="15.1" height="16.6" fill="#747474"/>
<rect x="276.7" y="805.2" width="15.1" height="16.6" fill="#727272"/>
<rect x="291.3" y="805.2" width="15.1" height="16.6" fill="#767676"/>
<rect x="305.8" y="805.2" width="16.6" height="16.6" fill="#767676"/>
</g></g>
<clipPath id="c9"><rect x="309.9" y="699.0" width="43.0" height="121.9"/></clipPath>
<g clip-path="url(#c9)">
<rect x="309.9" y="699.0" width="43.0" height="121.9" fill="#39ff00"/>
<g filter="url(#bl)">
<rect x="293.6" y="682.7" width="16.6" height="16.6" fill="#747474"/>
<rect x="309.6" y="682.7" width="14.9" height="16.6" fill="#747474"/>
<rect x="323.9" y="682.7" width="14.9" height="16.6" fill="#727272"/>
<rect x="338.3" y="682.7" width="14.9" height="16.6" fill="#707070"/>
<rect x="352.6" y="682.7" width="16.6" height="16.6" fill="#707070"/>
<rect x="293.6" y="698.7" width="16.6" height="15.8" fill="#747474"/>
<rect x="309.6" y="698.7" width="14.9" height="15.8" fill="#747474"/>
<rect x="323.9" y="698.7" width="14.9" height="15.8" fill="#727272"/>
<rect x="338.3" y="698.7" width="14.9" height="15.8" fill="#707070"/>
<rect x="352.6" y="698.7" width="16.6" height="15.8" fill="#707070"/>
<rect x="293.6" y="713.9" width="16.6" height="15.8" fill="#727272"/>
<rect x="309.6" y="713.9" width="14.9" height="15.8" fill="#727272"/>
<rect x="323.9" y="713.9" width="14.9" height="15.8" fill="#727272"/>
<rect x="338.3" y="713.9" width="14.9" height="15.8" fill="#767676"/>
<rect x="352.6" y="713.9" width="16.6" height="15.8" fill="#767676"/>
<rect x="293.6" y="729.2" width="16.6" height="15.8" fill="#707070"/>
<rect x="309.6" y="729.2" width="14.9" height="15.8" fill="#707070"/>
<rect x="323.9" y="729.2" width="14.9" height="15.8" fill="#707070"/>
<rect x="338.3" y="729.2" width="14.9" height="15.8" fill="#767676"/>
<rect x="352.6" y="729.2" width="16.6" height="15.8" fill="#767676"/>
<rect x="293.6" y="744.4" width="16.6" height="15.8" fill="#767676"/>
<rect x="309.6" y="744.4" width="14.9" height="15.8" fill="#767676"/>
<rect x="323.9" y="744.4" width="14.9" height="15.8" fill="#727272"/>
<rect x="338.3" y="744.4" width="14.9" height="15.8" fill="#707070"/>
<rect x="352.6" y="744.4" width="16.6" height="15.8" fill="#707070"/>
<rect x="293.6" y="759.7" width="16.6" height="15.8" fill="#7a7a7a"/>
<rect x="309.6" y="759.7" width="14.9" height="15.8" fill="#7a7a7a"/>
<rect x="323.9" y="759.7" width="14.9" height="15.8" fill="#747474"/>
<rect x="338.3" y="759.7" width="14.9" height="15.8" fill="#707070"/>
<rect x="352.6" y="759.7" width="16.6" height="15.8" fill="#707070"/>
<rect x="293.6" y="774.9" width="16.6" height="15.8" fill="#727272"/>
<rect x="309.6" y="774.9" width="14.9" height="15.8" fill="#727272"/>
<rect x="323.9" y="774.9" width="14.9" height="15.8" fill="#6c6c6c"/>
<rect x="338.3" y="774.9" width="14.9" height="15.8" fill="#6e6e6e"/>
<rect x="352.6" y="774.9" width="16.6" height="15.8" fill="#6e6e6e"/>
<rect x="293.6" y="790.1" width="16.6" height="15.8" fill="#6e6e6e"/>
<rect x="309.6" y="790.1" width="14.9" height="15.8" fill="#6e6e6e"/>
<rect x="323.9" y="790.1" width="14.9" height="15.8" fill="#6a6a6a"/>
<rect x="338.3" y="790.1" width="14.9" height="15.8" fill="#6c6c6c"/>
<rect x="352.6" y="790.1" width="16.6" height="15.8" fill="#6c6c6c"/>
<rect x="293.6" y="805.4" width="16.6" height="15.8" fill="#707070"/>
<rect x="309.6" y="805.4" width="14.9" height="15.8" fill="#707070"/>
<rect x="323.9" y="805.4" width="14.9" height="15.8" fill="#6e6e6e"/>
<rect x="338.3" y="805.4" width="14.9" height="15.8" fill="#707070"/>
<rect x="352.6" y="805.4" width="16.6" height="15.8" fill="#707070"/>
<rect x="293.6" y="820.6" width="16.6" height="16.6" fill="#707070"/>
<rect x="309.6" y="820.6" width="14.9" height="16.6" fill="#707070"/>
<rect x="323.9" y="820.6" width="14.9" height="16.6" fill="#6e6e6e"/>
<rect x="338.3" y="820.6" width="14.9" height="16.6" fill="#707070"/>
<rect x="352.6" y="820.6" width="16.6" height="16.6" fill="#707070"/>
</g></g>
<clipPath id="c10"><rect x="357.1" y="699.0" width="40.8" height="121.9"/></clipPath>
<g clip-path="url(#c10)">
<rect x="357.1" y="699.0" width="40.8" height="121.9" fill="#45ff00"/>
<g filter="url(#bl)">
<rect x="340.8" y="682.7" width="16.6" height="16.6" fill="#6a6a6a"/>
<rect x="356.8" y="682.7" width="14.2" height="16.6" fill="#6a6a6a"/>
<rect x="370.4" y="682.7" width="14.2" height="16.6" fill="#666666"/>
<rect x="384.0" y="682.7" width="14.2" height="16.6" fill="#6e6e6e"/>
<rect x="397.6" y="682.7" width="16.6" height="16.6" fill="#6e6e6e"/>
<rect x="340.8" y="698.7" width="16.6" height="15.8" fill="#6a6a6a"/>
<rect x="356.8" y="698.7" width="14.2" height="15.8" fill="#6a6a6a"/>
<rect x="370.4" y="698.7" width="14.2" height="15.8" fill="#666666"/>
<rect x="384.0" y="698.7" width="14.2" height="15.8" fill="#6e6e6e"/>
<rect x="397.6" y="698.7" width="16.6" height="15.8" fill="#6e6e6e"/>
<rect x="340.8" y="713.9" width="16.6" height="15.8" fill="#747474"/>
<rect x="356.8" y="713.9" width="14.2" height="15.8" fill="#747474"/>
<rect x="370.4" y="713.9" width="14.2" height="15.8" fill="#747474"/>
<rect x="384.0" y="713.9" width="14.2" height="15.8" fill="#767676"/>
<rect x="397.6" y="713.9" width="16.6" height="15.8" fill="#767676"/>
<rect x="340.8" y="729.2" width="16.6" height="15.8" fill="#767676"/>
<rect x="356.8" y="729.2" width="14.2" height="15.8" fill="#767676"/>
<rect x="370.4" y="729.2" width="14.2" height="15.8" fill="#767676"/>
<rect x="384.0" y="729.2" width="14.2" height="15.8" fill="#747474"/>
<rect x="397.6" y="729.2" width="16.6" height="15.8" fill="#747474"/>
<rect x="340.8" y="744.4" width="16.6" height="15.8" fill="#747474"/>
<rect x="356.8" y="744.4" width="14.2" height="15.8" fill="#747474"/>
<rect x="370.4" y="744.4" width="14.2" height="15.8" fill="#767676"/>
<rect x="384.0" y="744.4" width="14.2" height="15.8" fill="#767676"/>
<rect x="397.6" y="744.4" width="16.6" height="15.8" fill="#767676"/>
<rect x="340.8" y="759.7" width="16.6" height="15.8" fill="#727272"/>
<rect x="356.8" y="759.7" width="14.2" height="15.8" fill="#727272"/>
<rect x="370.4" y="759.7" width="14.2" height="15.8" fill="#747474"/>
<rect x="384.0" y="759.7" width="14.2" height="15.8" fill="#747474"/>
<rect x="397.6" y="759.7" width="16.6" height="15.8" fill="#747474"/>
<rect x="340.8" y="774.9" width="16.6" height="15.8" fill="#747474"/>
<rect x="356.8" y="774.9" width="14.2" height="15.8" fill="#747474"/>
<rect x="370.4" y="774.9" width="14.2" height="15.8" fill="#7a7a7a"/>
<rect x="384.0" y="774.9" width="14.2" height="15.8" fill="#7e7e7e"/>
<rect x="397.6" y="774.9" width="16.6" height="15.8" fill="#7e7e7e"/>
<rect x="340.8" y="790.1" width="16.6" height="15.8" fill="#727272"/>
<rect x="356.8" y="790.1" width="14.2" height="15.8" fill="#727272"/>
<rect x="370.4" y="790.1" width="14.2" height="15.8" fill="#767676"/>
<rect x="384.0" y="790.1" width="14.2" height="15.8" fill="#7a7a7a"/>
<rect x="397.6" y="790.1" width="16.6" height="15.8" fill="#7a7a7a"/>
<rect x="340.8" y="805.4" width="16.6" height="15.8" fill="#707070"/>
<rect x="356.8" y="805.4" width="14.2" height="15.8" fill="#707070"/>
<rect x="370.4" y="805.4" width="14.2" height="15.8" fill="#707070"/>
<rect x="384.0" y="805.4" width="14.2" height="15.8" fill="#727272"/>
<rect x="397.6" y="805.4" width="16.6" height="15.8" fill="#727272"/>
<rect x="340.8" y="820.6" width="16.6" height="16.6" fill="#707070"/>
<rect x="356.8" y="820.6" width="14.2" height="16.6" fill="#707070"/>
<rect x="370.4" y="820.6" width="14.2" height="16.6" fill="#707070"/>
<rect x="384.0" y="820.6" width="14.2" height="16.6" fill="#727272"/>
<rect x="397.6" y="820.6" width="16.6" height="16.6" fill="#727272"/>
</g></g>
<clipPath id="c11"><rect x="400.7" y="699.0" width="44.1" height="106.7"/></clipPath>
<g clip-path="url(#c11)">
<rect x="400.7" y="699.0" width="44.1" height="106.7" fill="#6bff00"/>
<g filter="url(#bl)">
<rect x="384.4" y="682.7" width="16.6" height="16.6" fill="#6e6e6e"/>
<rect x="400.4" y="682.7" width="15.3" height="16.6" fill="#6e6e6e"/>
<rect x="415.1" y="682.7" width="15.3" height="16.6" fill="#707070"/>
<rect x="429.8" y="682.7" width="15.3" height="16.6" fill="#767676"/>
<rect x="444.5" y="682.7" width="16.6" height="16.6" fill="#767676"/>
<rect x="384.4" y="698.7" width="16.6" height="15.8" fill="#6e6e6e"/>
<rect x="400.4" y="698.7" width="15.3" height="15.8" fill="#6e6e6e"/>
<rect x="415.1" y="698.7" width="15.3" height="15.8" fill="#707070"/>
<rect x="429.8" y="698.7" width="15.3" height="15.8" fill="#767676"/>
<rect x="444.5" y="698.7" width="16.6" height="15.8" fill="#767676"/>
<rect x="384.4" y="713.9" width="16.6" height="15.8" fill="#767676"/>
<rect x="400.4" y="713.9" width="15.3" height="15.8" fill="#767676"/>
<rect x="415.1" y="713.9" width="15.3" height="15.8" fill="#767676"/>
<rect x="429.8" y="713.9" width="15.3" height="15.8" fill="#7a7a7a"/>
<rect x="444.5" y="713.9" width="16.6" height="15.8" fill="#7a7a7a"/>
<rect x="384.4" y="729.2" width="16.6" height="15.8" fill="#767676"/>
<rect x="400.4" y="729.2" width="15.3" height="15.8" fill="#767676"/>
<rect x="415.1" y="729.2" width="15.3" height="15.8" fill="#7a7a7a"/>
<rect x="429.8" y="729.2" width="15.3" height="15.8" fill="#7e7e7e"/>
<rect x="444.5" y="729.2" width="16.6" height="15.8" fill="#7e7e7e"/>
<rect x="384.4" y="744.4" width="16.6" height="15.8" fill="#7e7e7e"/>
<rect x="400.4" y="744.4" width="15.3" height="15.8" fill="#7e7e7e"/>
<rect x="415.1" y="744.4" width="15.3" height="15.8" fill="#838383"/>
<rect x="429.8" y="744.4" width="15.3" height="15.8" fill="#838383"/>
<rect x="444.5" y="744.4" width="16.6" height="15.8" fill="#838383"/>
<rect x="384.4" y="759.7" width="16.6" height="15.8" fill="#7a7a7a"/>
<rect x="400.4" y="759.7" width="15.3" height="15.8" fill="#7a7a7a"/>
<rect x="415.1" y="759.7" width="15.3" height="15.8" fill="#7e7e7e"/>
<rect x="429.8" y="759.7" width="15.3" height="15.8" fill="#7e7e7e"/>
<rect x="444.5" y="759.7" width="16.6" height="15.8" fill="#7e7e7e"/>
<rect x="384.4" y="774.9" width="16.6" height="15.8" fill="#7a7a7a"/>
<rect x="400.4" y="774.9" width="15.3" height="15.8" fill="#7a7a7a"/>
<rect x="415.1" y="774.9" width="15.3" height="15.8" fill="#838383"/>
<rect x="429.8" y="774.9" width="15.3" height="15.8" fill="#838383"/>
<rect x="444.5" y="774.9" width="16.6" height="15.8" fill="#838383"/>
<rect x="384.4" y="790.2" width="16.6" height="15.8" fill="#7a7a7a"/>
<rect x="400.4" y="790.2" width="15.3" height="15.8" fill="#7a7a7a"/>
<rect x="415.1" y="790.2" width="15.3" height="15.8" fill="#818181"/>
<rect x="429.8" y="790.2" width="15.3" height="15.8" fill="#818181"/>
<rect x="444.5" y="790.2" width="16.6" height="15.8" fill="#818181"/>
<rect x="384.4" y="805.4" width="16.6" height="16.6" fill="#7a7a7a"/>
<rect x="400.4" y="805.4" width="15.3" height="16.6" fill="#7a7a7a"/>
<rect x="415.1" y="805.4" width="15.3" height="16.6" fill="#818181"/>
<rect x="429.8" y="805.4" width="15.3" height="16.6" fill="#818181"/>
<rect x="444.5" y="805.4" width="16.6" height="16.6" fill="#818181"/>
</g></g>
<clipPath id="c12"><rect x="447.4" y="665.0" width="44.2" height="125.5"/></clipPath>
<g clip-path="url(#c12)">
<rect x="447.4" y="665.0" width="44.2" height="125.5" fill="#a8ff00"/>
<g filter="url(#bl)">
<rect x="431.1" y="648.7" width="16.6" height="16.6" fill="#747474"/>
<rect x="447.1" y="648.7" width="15.3" height="16.6" fill="#747474"/>
<rect x="461.8" y="648.7" width="15.3" height="16.6" fill="#727272"/>
<rect x="476.6" y="648.7" width="15.3" height="16.6" fill="#767676"/>
<rect x="491.3" y="648.7" width="16.6" height="16.6" fill="#767676"/>
<rect x="431.1" y="664.7" width="16.6" height="16.3" fill="#747474"/>
<rect x="447.1" y="664.7" width="15.3" height="16.3" fill="#747474"/>
<rect x="461.8" y="664.7" width="15.3" height="16.3" fill="#727272"/>
<rect x="476.6" y="664.7" width="15.3" height="16.3" fill="#767676"/>
<rect x="491.3" y="664.7" width="16.6" height="16.3" fill="#767676"/>
<rect x="431.1" y="680.4" width="16.6" height="16.3" fill="#7e7e7e"/>
<rect x="447.1" y="680.4" width="15.3" height="16.3" fill="#7e7e7e"/>
<rect x="461.8" y="680.4" width="15.3" height="16.3" fill="#9f9f9f"/>
<rect x="476.6" y="680.4" width="15.3" height="16.3" fill="#b4b4b4"/>
<rect x="491.3" y="680.4" width="16.6" height="16.3" fill="#b4b4b4"/>
<rect x="431.1" y="696.1" width="16.6" height="16.3" fill="#818181"/>
<rect x="447.1" y="696.1" width="15.3" height="16.3" fill="#818181"/>
<rect x="461.8" y="696.1" width="15.3" height="16.3" fill="#939393"/>
<rect x="476.6" y="696.1" width="15.3" height="16.3" fill="#9b9b9b"/>
<rect x="491.3" y="696.1" width="16.6" height="16.3" fill="#9b9b9b"/>
<rect x="431.1" y="711.8" width="16.6" height="16.3" fill="#838383"/>
<rect x="447.1" y="711.8" width="15.3" height="16.3" fill="#838383"/>
<rect x="461.8" y="711.8" width="15.3" height="16.3" fill="#939393"/>
<rect x="476.6" y="711.8" width="15.3" height="16.3" fill="#9b9b9b"/>
<rect x="491.3" y="711.8" width="16.6" height="16.3" fill="#9b9b9b"/>
<rect x="431.1" y="727.5" width="16.6" height="16.3" fill="#838383"/>
<rect x="447.1" y="727.5" width="15.3" height="16.3" fill="#838383"/>
<rect x="461.8" y="727.5" width="15.3" height="16.3" fill="#8f8f8f"/>
<rect x="476.6" y="727.5" width="15.3" height="16.3" fill="#979797"/>
<rect x="491.3" y="727.5" width="16.6" height="16.3" fill="#979797"/>
<rect x="431.1" y="743.1" width="16.6" height="16.3" fill="#818181"/>
<rect x="447.1" y="743.1" width="15.3" height="16.3" fill="#818181"/>
<rect x="461.8" y="743.1" width="15.3" height="16.3" fill="#898989"/>
<rect x="476.6" y="743.1" width="15.3" height="16.3" fill="#8b8b8b"/>
<rect x="491.3" y="743.1" width="16.6" height="16.3" fill="#8b8b8b"/>
<rect x="431.1" y="758.8" width="16.6" height="16.3" fill="#7c7c7c"/>
<rect x="447.1" y="758.8" width="15.3" height="16.3" fill="#7c7c7c"/>
<rect x="461.8" y="758.8" width="15.3" height="16.3" fill="#818181"/>
<rect x="476.6" y="758.8" width="15.3" height="16.3" fill="#818181"/>
<rect x="491.3" y="758.8" width="16.6" height="16.3" fill="#818181"/>
<rect x="431.1" y="774.5" width="16.6" height="16.3" fill="#7a7a7a"/>
<rect x="447.1" y="774.5" width="15.3" height="16.3" fill="#7a7a7a"/>
<rect x="461.8" y="774.5" width="15.3" height="16.3" fill="#7a7a7a"/>
<rect x="476.6" y="774.5" width="15.3" height="16.3" fill="#7a7a7a"/>
<rect x="491.3" y="774.5" width="16.6" height="16.3" fill="#7a7a7a"/>
<rect x="431.1" y="790.2" width="16.6" height="16.6" fill="#7a7a7a"/>
<rect x="447.1" y="790.2" width="15.3" height="16.6" fill="#7a7a7a"/>
<rect x="461.8" y="790.2" width="15.3" height="16.6" fill="#7a7a7a"/>
<rect x="476.6" y="790.2" width="15.3" height="16.6" fill="#7a7a7a"/>
<rect x="491.3" y="790.2" width="16.6" height="16.6" fill="#7a7a7a"/>
</g></g>
<rect x="213.4" y="696.80" width="282.3" height="2.00" fill="#111"/>
<rect x="213.4" y="711.80" width="279.6" height="1.00" fill="#222"/>
<rect x="214.0" y="774.10" width="279.0" height="1.20" fill="#222"/>
<rect x="213.20" y="665.5" width="1.00" height="155.5" fill="#1a1a1a"/>
<rect x="212.0" y="664.3" width="50.3" height="46.0" fill="none" stroke="#fff" stroke-opacity="0.45" stroke-width="2.6" stroke-linecap="round" stroke-dasharray="0 6.7" stroke-dashoffset="3.35"/>
<rect x="212.0" y="664.3" width="50.3" height="46.0" fill="none" stroke="#080808" stroke-width="3.4" stroke-linecap="round" stroke-dasharray="0 6.7"/>
<rect x="444.5" y="662.8" width="49.0" height="34.9" fill="none" stroke="#fff" stroke-opacity="0.45" stroke-width="2.6" stroke-linecap="round" stroke-dasharray="0 6.7" stroke-dashoffset="3.35"/>
<rect x="444.5" y="662.8" width="49.0" height="34.9" fill="none" stroke="#080808" stroke-width="3.4" stroke-linecap="round" stroke-dasharray="0 6.7"/>
<text class="lab" x="215.3" y="654.5">ROI</text>
<text class="lab" x="451.6" y="654.5">ROI</text>
<text class="lab" x="382.5" y="656.0" textLength="21.5" lengthAdjust="spacingAndGlyphs">Cz</text>
<line x1="384.5" y1="664.3" x2="355.0" y2="712.3" stroke="#0a0a0a" stroke-width="1.5"/>
<circle cx="355.0" cy="712.3" r="4.4" fill="#050505"/>
<text class="star" x="238.0" y="686.1">*</text>
<text class="star" x="470.3" y="699.8">*</text>
</g>
<g id="h3-overlay">
<rect x="775.4" y="231.5" width="291.4" height="150.2" fill="#808080"/>
<rect x="823.0" y="261.8" width="1.6" height="89.0" fill="#2a2a2a"/>
<rect x="824.6" y="261.8" width="1.3" height="89.0" fill="#9a9a9a"/>
<rect x="871.4" y="261.8" width="1.6" height="103.9" fill="#2a2a2a"/>
<rect x="873.0" y="261.8" width="1.7" height="103.9" fill="#9a9a9a"/>
<rect x="919.5" y="261.8" width="1.6" height="119.3" fill="#2a2a2a"/>
<rect x="921.1" y="261.8" width="1.5" height="119.3" fill="#9a9a9a"/>
<rect x="966.1" y="261.8" width="1.6" height="103.9" fill="#2a2a2a"/>
<rect x="967.7" y="261.8" width="2.1" height="103.9" fill="#9a9a9a"/>
<rect x="1014.9" y="261.8" width="1.6" height="89.0" fill="#2a2a2a"/>
<rect x="1016.5" y="261.8" width="1.5" height="89.0" fill="#9a9a9a"/>
<clipPath id="c13"><rect x="778.2" y="231.5" width="44.5" height="119.3"/></clipPath>
<g clip-path="url(#c13)">
<rect x="778.2" y="231.5" width="44.5" height="119.3" fill="#ff0600"/>
<g filter="url(#bl)">
<rect x="761.9" y="215.2" width="16.6" height="16.6" fill="#ffffff"/>
<rect x="777.9" y="215.2" width="15.4" height="16.6" fill="#ffffff"/>
<rect x="792.7" y="215.2" width="15.4" height="16.6" fill="#ffffff"/>
<rect x="807.6" y="215.2" width="15.4" height="16.6" fill="#cccccc"/>
<rect x="822.4" y="215.2" width="16.6" height="16.6" fill="#cccccc"/>
<rect x="761.9" y="231.2" width="16.6" height="15.5" fill="#ffffff"/>
<rect x="777.9" y="231.2" width="15.4" height="15.5" fill="#ffffff"/>
<rect x="792.7" y="231.2" width="15.4" height="15.5" fill="#ffffff"/>
<rect x="807.6" y="231.2" width="15.4" height="15.5" fill="#cccccc"/>
<rect x="822.4" y="231.2" width="16.6" height="15.5" fill="#cccccc"/>
<rect x="761.9" y="246.1" width="16.6" height="15.5" fill="#f5f5f5"/>
<rect x="777.9" y="246.1" width="15.4" height="15.5" fill="#f5f5f5"/>
<rect x="792.7" y="246.1" width="15.4" height="15.5" fill="#ebebeb"/>
<rect x="807.6" y="246.1" width="15.4" height="15.5" fill="#bcbcbc"/>
<rect x="822.4" y="246.1" width="16.6" height="15.5" fill="#bcbcbc"/>
<rect x="761.9" y="261.0" width="16.6" height="15.5" fill="#ffffff"/>
<rect x="777.9" y="261.0" width="15.4" height="15.5" fill="#ffffff"/>
<rect x="792.7" y="261.0" width="15.4" height="15.5" fill="#ffffff"/>
<rect x="807.6" y="261.0" width="15.4" height="15.5" fill="#cccccc"/>
<rect x="822.4" y="261.0" width="16.6" height="15.5" fill="#cccccc"/>
<rect x="761.9" y="275.9" width="16.6" height="15.5" fill="#ffffff"/>
<rect x="777.9" y="275.9" width="15.4" height="15.5" fill="#ffffff"/>
<rect x="792.7" y="275.9" width="15.4" height="15.5" fill="#ffffff"/>
<rect x="807.6" y="275.9" width="15.4" height="15.5" fill="#bcbcbc"/>
<rect x="822.4" y="275.9" width="16.6" height="15.5" fill="#bcbcbc"/>
<rect x="761.9" y="290.8" width="16.6" height="15.5" fill="#ffffff"/>
<rect x="777.9" y="290.8" width="15.4" height="15.5" fill="#ffffff"/>
<rect x="792.7" y="290.8" width="15.4" height="15.5" fill="#f5f5f5"/>
<rect x="807.6" y="290.8" width="15.4" height="15.5" fill="#afafaf"/>
<rect x="822.4" y="290.8" width="16.6" height="15.5" fill="#afafaf"/>
<rect x="761.9" y="305.8" width="16.6" height="15.5" fill="#979797"/>
<rect x="777.9" y="305.8" width="15.4" height="15.5" fill="#979797"/>
<rect x="792.7" y="305.8" width="15.4" height="15.5" fill="#939393"/>
<rect x="807.6" y="305.8" width="15.4" height="15.5" fill="#939393"/>
<rect x="822.4" y="305.8" width="16.6" height="15.5" fill="#939393"/>
<rect x="761.9" y="320.7" width="16.6" height="15.5" fill="#8b8b8b"/>
<rect x="777.9" y="320.7" width="15.4" height="15.5" fill="#8b8b8b"/>
<rect x="792.7" y="320.7" width="15.4" height="15.5" fill="#9b9b9b"/>
<rect x="807.6" y="320.7" width="15.4" height="15.5" fill="#afafaf"/>
<rect x="822.4" y="320.7" width="16.6" height="15.5" fill="#afafaf"/>
<rect x="761.9" y="335.6" width="16.6" height="15.5" fill="#9b9b9b"/>
<rect x="777.9" y="335.6" width="15.4" height="15.5" fill="#9b9b9b"/>
<rect x="792.7" y="335.6" width="15.4" height="15.5" fill="#a3a3a3"/>
<rect x="807.6" y="335.6" width="15.4" height="15.5" fill="#a7a7a7"/>
<rect x="822.4" y="335.6" width="16.6" height="15.5" fill="#a7a7a7"/>
<rect x="761.9" y="350.5" width="16.6" height="16.6" fill="#9b9b9b"/>
<rect x="777.9" y="350.5" width="15.4" height="16.6" fill="#9b9b9b"/>
<rect x="792.7" y="350.5" width="15.4" height="16.6" fill="#a3a3a3"/>
<rect x="807.6" y="350.5" width="15.4" height="16.6" fill="#a7a7a7"/>
<rect x="822.4" y="350.5" width="16.6" height="16.6" fill="#a7a7a7"/>
</g></g>
<clipPath id="c14"><rect x="825.9" y="261.8" width="45.1" height="103.9"/></clipPath>
<g clip-path="url(#c14)">
<rect x="825.9" y="261.8" width="45.1" height="103.9" fill="#c8ff00"/>
<g filter="url(#bl)">
<rect x="809.6" y="245.5" width="16.6" height="16.6" fill="#b4b4b4"/>
<rect x="825.6" y="245.5" width="15.6" height="16.6" fill="#b4b4b4"/>
<rect x="840.6" y="245.5" width="15.6" height="16.6" fill="#9b9b9b"/>
<rect x="855.7" y="245.5" width="15.6" height="16.6" fill="#878787"/>
<rect x="870.7" y="245.5" width="16.6" height="16.6" fill="#878787"/>
<rect x="809.6" y="261.5" width="16.6" height="15.4" fill="#b4b4b4"/>
<rect x="825.6" y="261.5" width="15.6" height="15.4" fill="#b4b4b4"/>
<rect x="840.6" y="261.5" width="15.6" height="15.4" fill="#9b9b9b"/>
<rect x="855.7" y="261.5" width="15.6" height="15.4" fill="#878787"/>
<rect x="870.7" y="261.5" width="16.6" height="15.4" fill="#878787"/>
<rect x="809.6" y="276.3" width="16.6" height="15.4" fill="#767676"/>
<rect x="825.6" y="276.3" width="15.6" height="15.4" fill="#767676"/>
<rect x="840.6" y="276.3" width="15.6" height="15.4" fill="#626262"/>
<rect x="855.7" y="276.3" width="15.6" height="15.4" fill="#565656"/>
<rect x="870.7" y="276.3" width="16.6" height="15.4" fill="#565656"/>
<rect x="809.6" y="291.2" width="16.6" height="15.4" fill="#767676"/>
<rect x="825.6" y="291.2" width="15.6" height="15.4" fill="#767676"/>
<rect x="840.6" y="291.2" width="15.6" height="15.4" fill="#666666"/>
<rect x="855.7" y="291.2" width="15.6" height="15.4" fill="#585858"/>
<rect x="870.7" y="291.2" width="16.6" height="15.4" fill="#585858"/>
<rect x="809.6" y="306.0" width="16.6" height="15.4" fill="#939393"/>
<rect x="825.6" y="306.0" width="15.6" height="15.4" fill="#939393"/>
<rect x="840.6" y="306.0" width="15.6" height="15.4" fill="#8b8b8b"/>
<rect x="855.7" y="306.0" width="15.6" height="15.4" fill="#767676"/>
<rect x="870.7" y="306.0" width="16.6" height="15.4" fill="#767676"/>
<rect x="809.6" y="320.9" width="16.6" height="15.4" fill="#b8b8b8"/>
<rect x="825.6" y="320.9" width="15.6" height="15.4" fill="#b8b8b8"/>
<rect x="840.6" y="320.9" width="15.6" height="15.4" fill="#c4c4c4"/>
<rect x="855.7" y="320.9" width="15.6" height="15.4" fill="#a7a7a7"/>
<rect x="870.7" y="320.9" width="16.6" height="15.4" fill="#a7a7a7"/>
<rect x="809.6" y="335.7" width="16.6" height="15.4" fill="#b8b8b8"/>
<rect x="825.6" y="335.7" width="15.6" height="15.4" fill="#b8b8b8"/>
<rect x="840.6" y="335.7" width="15.6" height="15.4" fill="#c2c2c2"/>
<rect x="855.7" y="335.7" width="15.6" height="15.4" fill="#9f9f9f"/>
<rect x="870.7" y="335.7" width="16.6" height="15.4" fill="#9f9f9f"/>
<rect x="809.6" y="350.6" width="16.6" height="15.4" fill="#8f8f8f"/>
<rect x="825.6" y="350.6" width="15.6" height="15.4" fill="#8f8f8f"/>
<rect x="840.6" y="350.6" width="15.6" height="15.4" fill="#8f8f8f"/>
<rect x="855.7" y="350.6" width="15.6" height="15.4" fill="#838383"/>
<rect x="870.7" y="350.6" width="16.6" height="15.4" fill="#838383"/>
<rect x="809.6" y="365.4" width="16.6" height="16.6" fill="#8f8f8f"/>
<rect x="825.6" y="365.4" width="15.6" height="16.6" fill="#8f8f8f"/>
<rect x="840.6" y="365.4" width="15.6" height="16.6" fill="#8f8f8f"/>
<rect x="855.7" y="365.4" width="15.6" height="16.6" fill="#838383"/>
<rect x="870.7" y="365.4" width="16.6" height="16.6" fill="#838383"/>
</g></g>
<clipPath id="c15"><rect x="874.7" y="261.8" width="44.5" height="119.3"/></clipPath>
<g clip-path="url(#c15)">
<rect x="874.7" y="261.8" width="44.5" height="119.3" fill="#1eff00"/>
<g filter="url(#bl)">
<rect x="858.4" y="245.5" width="16.6" height="16.6" fill="#727272"/>
<rect x="874.4" y="245.5" width="15.4" height="16.6" fill="#727272"/>
<rect x="889.2" y="245.5" width="15.4" height="16.6" fill="#6a6a6a"/>
<rect x="904.1" y="245.5" width="15.4" height="16.6" fill="#666666"/>
<rect x="918.9" y="245.5" width="16.6" height="16.6" fill="#666666"/>
<rect x="858.4" y="261.5" width="16.6" height="15.5" fill="#727272"/>
<rect x="874.4" y="261.5" width="15.4" height="15.5" fill="#727272"/>
<rect x="889.2" y="261.5" width="15.4" height="15.5" fill="#6a6a6a"/>
<rect x="904.1" y="261.5" width="15.4" height="15.5" fill="#666666"/>
<rect x="918.9" y="261.5" width="16.6" height="15.5" fill="#666666"/>
<rect x="858.4" y="276.4" width="16.6" height="15.5" fill="#626262"/>
<rect x="874.4" y="276.4" width="15.4" height="15.5" fill="#626262"/>
<rect x="889.2" y="276.4" width="15.4" height="15.5" fill="#5e5e5e"/>
<rect x="904.1" y="276.4" width="15.4" height="15.5" fill="#626262"/>
<rect x="918.9" y="276.4" width="16.6" height="15.5" fill="#626262"/>
<rect x="858.4" y="291.3" width="16.6" height="15.5" fill="#626262"/>
<rect x="874.4" y="291.3" width="15.4" height="15.5" fill="#626262"/>
<rect x="889.2" y="291.3" width="15.4" height="15.5" fill="#626262"/>
<rect x="904.1" y="291.3" width="15.4" height="15.5" fill="#666666"/>
<rect x="918.9" y="291.3" width="16.6" height="15.5" fill="#666666"/>
<rect x="858.4" y="306.2" width="16.6" height="15.5" fill="#666666"/>
<rect x="874.4" y="306.2" width="15.4" height="15.5" fill="#666666"/>
<rect x="889.2" y="306.2" width="15.4" height="15.5" fill="#545454"/>
<rect x="904.1" y="306.2" width="15.4" height="15.5" fill="#585858"/>
<rect x="918.9" y="306.2" width="16.6" height="15.5" fill="#585858"/>
<rect x="858.4" y="321.2" width="16.6" height="15.5" fill="#7e7e7e"/>
<rect x="874.4" y="321.2" width="15.4" height="15.5" fill="#7e7e7e"/>
<rect x="889.2" y="321.2" width="15.4" height="15.5" fill="#6a6a6a"/>
<rect x="904.1" y="321.2" width="15.4" height="15.5" fill="#626262"/>
<rect x="918.9" y="321.2" width="16.6" height="15.5" fill="#626262"/>
<rect x="858.4" y="336.1" width="16.6" height="15.5" fill="#9b9b9b"/>
<rect x="874.4" y="336.1" width="15.4" height="15.5" fill="#9b9b9b"/>
<rect x="889.2" y="336.1" width="15.4" height="15.5" fill="#838383"/>
<rect x="904.1" y="336.1" width="15.4" height="15.5" fill="#6e6e6e"/>
<rect x="918.9" y="336.1" width="16.6" height="15.5" fill="#6e6e6e"/>
<rect x="858.4" y="351.0" width="16.6" height="15.5" fill="#878787"/>
<rect x="874.4" y="351.0" width="15.4" height="15.5" fill="#878787"/>
<rect x="889.2" y="351.0" width="15.4" height="15.5" fill="#838383"/>
<rect x="904.1" y="351.0" width="15.4" height="15.5" fill="#767676"/>
<rect x="918.9" y="351.0" width="16.6" height="15.5" fill="#767676"/>
<rect x="858.4" y="365.9" width="16.6" height="15.5" fill="#5a5a5a"/>
<rect x="874.4" y="365.9" width="15.4" height="15.5" fill="#5a5a5a"/>
<rect x="889.2" y="365.9" width="15.4" height="15.5" fill="#666666"/>
<rect x="904.1" y="365.9" width="15.4" height="15.5" fill="#6a6a6a"/>
<rect x="918.9" y="365.9" width="16.6" height="15.5" fill="#6a6a6a"/>
<rect x="858.4" y="380.8" width="16.6" height="16.6" fill="#5a5a5a"/>
<rect x="874.4" y="380.8" width="15.4" height="16.6" fill="#5a5a5a"/>
<rect x="889.2" y="380.8" width="15.4" height="16.6" fill="#666666"/>
<rect x="904.1" y="380.8" width="15.4" height="16.6" fill="#6a6a6a"/>
<rect x="918.9" y="380.8" width="16.6" height="16.6" fill="#6a6a6a"/>
</g></g>
<clipPath id="c16"><rect x="922.6" y="261.8" width="43.1" height="119.3"/></clipPath>
<g clip-path="url(#c16)">
<rect x="922.6" y="261.8" width="43.1" height="119.3" fill="#2cff00"/>
<g filter="url(#bl)">
<rect x="906.3" y="245.5" width="16.6" height="16.6" fill="#727272"/>
<rect x="922.3" y="245.5" width="15.0" height="16.6" fill="#727272"/>
<rect x="936.7" y="245.5" width="15.0" height="16.6" fill="#727272"/>
<rect x="951.0" y="245.5" width="15.0" height="16.6" fill="#767676"/>
<rect x="965.4" y="245.5" width="16.6" height="16.6" fill="#767676"/>
<rect x="906.3" y="261.5" width="16.6" height="15.5" fill="#727272"/>
<rect x="922.3" y="261.5" width="15.0" height="15.5" fill="#727272"/>
<rect x="936.7" y="261.5" width="15.0" height="15.5" fill="#727272"/>
<rect x="951.0" y="261.5" width="15.0" height="15.5" fill="#767676"/>
<rect x="965.4" y="261.5" width="16.6" height="15.5" fill="#767676"/>
<rect x="906.3" y="276.4" width="16.6" height="15.5" fill="#838383"/>
<rect x="922.3" y="276.4" width="15.0" height="15.5" fill="#838383"/>
<rect x="936.7" y="276.4" width="15.0" height="15.5" fill="#8b8b8b"/>
<rect x="951.0" y="276.4" width="15.0" height="15.5" fill="#7e7e7e"/>
<rect x="965.4" y="276.4" width="16.6" height="15.5" fill="#7e7e7e"/>
<rect x="906.3" y="291.3" width="16.6" height="15.5" fill="#727272"/>
<rect x="922.3" y="291.3" width="15.0" height="15.5" fill="#727272"/>
<rect x="936.7" y="291.3" width="15.0" height="15.5" fill="#767676"/>
<rect x="951.0" y="291.3" width="15.0" height="15.5" fill="#727272"/>
<rect x="965.4" y="291.3" width="16.6" height="15.5" fill="#727272"/>
<rect x="906.3" y="306.2" width="16.6" height="15.5" fill="#666666"/>
<rect x="922.3" y="306.2" width="15.0" height="15.5" fill="#666666"/>
<rect x="936.7" y="306.2" width="15.0" height="15.5" fill="#6a6a6a"/>
<rect x="951.0" y="306.2" width="15.0" height="15.5" fill="#6a6a6a"/>
<rect x="965.4" y="306.2" width="16.6" height="15.5" fill="#6a6a6a"/>
<rect x="906.3" y="321.2" width="16.6" height="15.5" fill="#565656"/>
<rect x="922.3" y="321.2" width="15.0" height="15.5" fill="#565656"/>
<rect x="936.7" y="321.2" width="15.0" height="15.5" fill="#5a5a5a"/>
<rect x="951.0" y="321.2" width="15.0" height="15.5" fill="#626262"/>
<rect x="965.4" y="321.2" width="16.6" height="15.5" fill="#626262"/>
<rect x="906.3" y="336.1" width="16.6" height="15.5" fill="#626262"/>
<rect x="922.3" y="336.1" width="15.0" height="15.5" fill="#626262"/>
<rect x="936.7" y="336.1" width="15.0" height="15.5" fill="#6e6e6e"/>
<rect x="951.0" y="336.1" width="15.0" height="15.5" fill="#666666"/>
<rect x="965.4" y="336.1" width="16.6" height="15.5" fill="#666666"/>
<rect x="906.3" y="351.0" width="16.6" height="15.5" fill="#727272"/>
<rect x="922.3" y="351.0" width="15.0" height="15.5" fill="#727272"/>
<rect x="936.7" y="351.0" width="15.0" height="15.5" fill="#727272"/>
<rect x="951.0" y="351.0" width="15.0" height="15.5" fill="#6a6a6a"/>
<rect x="965.4" y="351.0" width="16.6" height="15.5" fill="#6a6a6a"/>
<rect x="906.3" y="365.9" width="16.6" height="15.5" fill="#6e6e6e"/>
<rect x="922.3" y="365.9" width="15.0" height="15.5" fill="#6e6e6e"/>
<rect x="936.7" y="365.9" width="15.0" height="15.5" fill="#767676"/>
<rect x="951.0" y="365.9" width="15.0" height="15.5" fill="#6e6e6e"/>
<rect x="965.4" y="365.9" width="16.6" height="15.5" fill="#6e6e6e"/>
<rect x="906.3" y="380.8" width="16.6" height="16.6" fill="#6e6e6e"/>
<rect x="922.3" y="380.8" width="15.0" height="16.6" fill="#6e6e6e"/>
<rect x="936.7" y="380.8" width="15.0" height="16.6" fill="#767676"/>
<rect x="951.0" y="380.8" width="15.0" height="16.6" fill="#6e6e6e"/>
<rect x="965.4" y="380.8" width="16.6" height="16.6" fill="#6e6e6e"/>
</g></g>
<clipPath id="c17"><rect x="969.8" y="261.8" width="44.7" height="103.9"/></clipPath>
<g clip-path="url(#c17)">
<rect x="969.8" y="261.8" width="44.7" height="103.9" fill="#00ff10"/>
<g filter="url(#bl)">
<rect x="953.5" y="245.5" width="16.6" height="16.6" fill="#767676"/>
<rect x="969.5" y="245.5" width="15.5" height="16.6" fill="#767676"/>
<rect x="984.4" y="245.5" width="15.5" height="16.6" fill="#7a7a7a"/>
<rect x="999.3" y="245.5" width="15.5" height="16.6" fill="#8b8b8b"/>
<rect x="1014.2" y="245.5" width="16.6" height="16.6" fill="#8b8b8b"/>
<rect x="953.5" y="261.5" width="16.6" height="15.4" fill="#767676"/>
<rect x="969.5" y="261.5" width="15.5" height="15.4" fill="#767676"/>
<rect x="984.4" y="261.5" width="15.5" height="15.4" fill="#7a7a7a"/>
<rect x="999.3" y="261.5" width="15.5" height="15.4" fill="#8b8b8b"/>
<rect x="1014.2" y="261.5" width="16.6" height="15.4" fill="#8b8b8b"/>
<rect x="953.5" y="276.3" width="16.6" height="15.4" fill="#6a6a6a"/>
<rect x="969.5" y="276.3" width="15.5" height="15.4" fill="#6a6a6a"/>
<rect x="984.4" y="276.3" width="15.5" height="15.4" fill="#666666"/>
<rect x="999.3" y="276.3" width="15.5" height="15.4" fill="#767676"/>
<rect x="1014.2" y="276.3" width="16.6" height="15.4" fill="#767676"/>
<rect x="953.5" y="291.2" width="16.6" height="15.4" fill="#7e7e7e"/>
<rect x="969.5" y="291.2" width="15.5" height="15.4" fill="#7e7e7e"/>
<rect x="984.4" y="291.2" width="15.5" height="15.4" fill="#7e7e7e"/>
<rect x="999.3" y="291.2" width="15.5" height="15.4" fill="#8b8b8b"/>
<rect x="1014.2" y="291.2" width="16.6" height="15.4" fill="#8b8b8b"/>
<rect x="953.5" y="306.0" width="16.6" height="15.4" fill="#5a5a5a"/>
<rect x="969.5" y="306.0" width="15.5" height="15.4" fill="#5a5a5a"/>
<rect x="984.4" y="306.0" width="15.5" height="15.4" fill="#434343"/>
<rect x="999.3" y="306.0" width="15.5" height="15.4" fill="#525252"/>
<rect x="1014.2" y="306.0" width="16.6" height="15.4" fill="#525252"/>
<rect x="953.5" y="320.9" width="16.6" height="15.4" fill="#626262"/>
<rect x="969.5" y="320.9" width="15.5" height="15.4" fill="#626262"/>
<rect x="984.4" y="320.9" width="15.5" height="15.4" fill="#5e5e5e"/>
<rect x="999.3" y="320.9" width="15.5" height="15.4" fill="#5e5e5e"/>
<rect x="1014.2" y="320.9" width="16.6" height="15.4" fill="#5e5e5e"/>
<rect x="953.5" y="335.7" width="16.6" height="15.4" fill="#565656"/>
<rect x="969.5" y="335.7" width="15.5" height="15.4" fill="#565656"/>
<rect x="984.4" y="335.7" width="15.5" height="15.4" fill="#454545"/>
<rect x="999.3" y="335.7" width="15.5" height="15.4" fill="#494949"/>
<rect x="1014.2" y="335.7" width="16.6" height="15.4" fill="#494949"/>
<rect x="953.5" y="350.6" width="16.6" height="15.4" fill="#5a5a5a"/>
<rect x="969.5" y="350.6" width="15.5" height="15.4" fill="#5a5a5a"/>
<rect x="984.4" y="350.6" width="15.5" height="15.4" fill="#414141"/>
<rect x="999.3" y="350.6" width="15.5" height="15.4" fill="#454545"/>
<rect x="1014.2" y="350.6" width="16.6" height="15.4" fill="#454545"/>
<rect x="953.5" y="365.4" width="16.6" height="16.6" fill="#5a5a5a"/>
<rect x="969.5" y="365.4" width="15.5" height="16.6" fill="#5a5a5a"/>
<rect x="984.4" y="365.4" width="15.5" height="16.6" fill="#414141"/>
<rect x="999.3" y="365.4" width="15.5" height="16.6" fill="#454545"/>
<rect x="1014.2" y="365.4" width="16.6" height="16.6" fill="#454545"/>
</g></g>
<clipPath id="c18"><rect x="1018.0" y="231.5" width="45.1" height="119.3"/></clipPath>
<g clip-path="url(#c18)">
<rect x="1018.0" y="231.5" width="45.1" height="119.3" fill="#ffe900"/>
<g filter="url(#bl)">
<rect x="1001.7" y="215.2" width="16.6" height="16.6" fill="#a3a3a3"/>
<rect x="1017.7" y="215.2" width="15.6" height="16.6" fill="#a3a3a3"/>
<rect x="1032.7" y="215.2" width="15.6" height="16.6" fill="#d6d6d6"/>
<rect x="1047.8" y="215.2" width="15.6" height="16.6" fill="#ffffff"/>
<rect x="1062.8" y="215.2" width="16.6" height="16.6" fill="#ffffff"/>
<rect x="1001.7" y="231.2" width="16.6" height="15.5" fill="#a3a3a3"/>
<rect x="1017.7" y="231.2" width="15.6" height="15.5" fill="#a3a3a3"/>
<rect x="1032.7" y="231.2" width="15.6" height="15.5" fill="#d6d6d6"/>
<rect x="1047.8" y="231.2" width="15.6" height="15.5" fill="#ffffff"/>
<rect x="1062.8" y="231.2" width="16.6" height="15.5" fill="#ffffff"/>
<rect x="1001.7" y="246.1" width="16.6" height="15.5" fill="#a3a3a3"/>
<rect x="1017.7" y="246.1" width="15.6" height="15.5" fill="#a3a3a3"/>
<rect x="1032.7" y="246.1" width="15.6" height="15.5" fill="#d6d6d6"/>
<rect x="1047.8" y="246.1" width="15.6" height="15.5" fill="#ffffff"/>
<rect x="1062.8" y="246.1" width="16.6" height="15.5" fill="#ffffff"/>
<rect x="1001.7" y="261.0" width="16.6" height="15.5" fill="#9b9b9b"/>
<rect x="1017.7" y="261.0" width="15.6" height="15.5" fill="#9b9b9b"/>
<rect x="1032.7" y="261.0" width="15.6" height="15.5" fill="#ababab"/>
<rect x="1047.8" y="261.0" width="15.6" height="15.5" fill="#b4b4b4"/>
<rect x="1062.8" y="261.0" width="16.6" height="15.5" fill="#b4b4b4"/>
<rect x="1001.7" y="275.9" width="16.6" height="15.5" fill="#979797"/>
<rect x="1017.7" y="275.9" width="15.6" height="15.5" fill="#979797"/>
<rect x="1032.7" y="275.9" width="15.6" height="15.5" fill="#b8b8b8"/>
<rect x="1047.8" y="275.9" width="15.6" height="15.5" fill="#bcbcbc"/>
<rect x="1062.8" y="275.9" width="16.6" height="15.5" fill="#bcbcbc"/>
<rect x="1001.7" y="290.8" width="16.6" height="15.5" fill="#8f8f8f"/>
<rect x="1017.7" y="290.8" width="15.6" height="15.5" fill="#8f8f8f"/>
<rect x="1032.7" y="290.8" width="15.6" height="15.5" fill="#ababab"/>
<rect x="1047.8" y="290.8" width="15.6" height="15.5" fill="#afafaf"/>
<rect x="1062.8" y="290.8" width="16.6" height="15.5" fill="#afafaf"/>
<rect x="1001.7" y="305.8" width="16.6" height="15.5" fill="#767676"/>
<rect x="1017.7" y="305.8" width="15.6" height="15.5" fill="#767676"/>
<rect x="1032.7" y="305.8" width="15.6" height="15.5" fill="#6e6e6e"/>
<rect x="1047.8" y="305.8" width="15.6" height="15.5" fill="#727272"/>
<rect x="1062.8" y="305.8" width="16.6" height="15.5" fill="#727272"/>
<rect x="1001.7" y="320.7" width="16.6" height="15.5" fill="#666666"/>
<rect x="1017.7" y="320.7" width="15.6" height="15.5" fill="#666666"/>
<rect x="1032.7" y="320.7" width="15.6" height="15.5" fill="#6a6a6a"/>
<rect x="1047.8" y="320.7" width="15.6" height="15.5" fill="#6a6a6a"/>
<rect x="1062.8" y="320.7" width="16.6" height="15.5" fill="#6a6a6a"/>
<rect x="1001.7" y="335.6" width="16.6" height="15.5" fill="#6e6e6e"/>
<rect x="1017.7" y="335.6" width="15.6" height="15.5" fill="#6e6e6e"/>
<rect x="1032.7" y="335.6" width="15.6" height="15.5" fill="#727272"/>
<rect x="1047.8" y="335.6" width="15.6" height="15.5" fill="#727272"/>
<rect x="1062.8" y="335.6" width="16.6" height="15.5" fill="#727272"/>
<rect x="1001.7" y="350.5" width="16.6" height="16.6" fill="#6e6e6e"/>
<rect x="1017.7" y="350.5" width="15.6" height="16.6" fill="#6e6e6e"/>
<rect x="1032.7" y="350.5" width="15.6" height="16.6" fill="#727272"/>
<rect x="1047.8" y="350.5" width="15.6" height="16.6" fill="#727272"/>
<rect x="1062.8" y="350.5" width="16.6" height="16.6" fill="#727272"/>
</g></g>
<rect x="778.0" y="275.40" width="285.0" height="0.80" fill="#555"/>
<rect x="775.4" y="305.65" width="288.6" height="1.30" fill="#222"/>
<rect x="775.4" y="320.20" width="288.6" height="2.00" fill="#111"/>
<rect x="775.4" y="335.40" width="288.6" height="2.00" fill="#111"/>
<rect x="825.0" y="350.70" width="190.0" height="1.40" fill="#222"/>
<rect x="874.0" y="365.70" width="92.0" height="1.80" fill="#111"/>
<rect x="773.4" y="228.6" width="53.4" height="48.2" fill="none" stroke="#fff" stroke-opacity="0.45" stroke-width="2.6" stroke-linecap="round" stroke-dasharray="0 6.7" stroke-dashoffset="3.35"/>
<rect x="773.4" y="228.6" width="53.4" height="48.2" fill="none" stroke="#080808" stroke-width="3.4" stroke-linecap="round" stroke-dasharray="0 6.7"/>
<rect x="1015.0" y="228.4" width="49.2" height="35.8" fill="none" stroke="#fff" stroke-opacity="0.45" stroke-width="2.6" stroke-linecap="round" stroke-dasharray="0 6.7" stroke-dashoffset="3.35"/>
<rect x="1015.0" y="228.4" width="49.2" height="35.8" fill="none" stroke="#080808" stroke-width="3.4" stroke-linecap="round" stroke-dasharray="0 6.7"/>
<text class="lab" x="779.8" y="220.5">ROI</text>
<text class="lab" x="1019.5" y="220.5">ROI</text>
<text class="lab" x="948.0" y="222.0" textLength="21.5" lengthAdjust="spacingAndGlyphs">Cz</text>
<line x1="949.9" y1="230.2" x2="920.6" y2="277.9" stroke="#0a0a0a" stroke-width="1.5"/>
<circle cx="920.6" cy="277.9" r="4.4" fill="#050505"/>
<text class="star" x="802.0" y="251.6">*</text>
<text class="star" x="803.3" y="282.1">*</text>
<text class="star" x="803.3" y="296.4">*</text>
</g>
<g id="h4-overlay">
<rect x="779.5" y="660.3" width="281.2" height="163.4" fill="#808080"/>
<clipPath id="c19"><rect x="783.8" y="660.8" width="42.1" height="128.8"/></clipPath>
<g clip-path="url(#c19)">
<rect x="783.8" y="660.8" width="42.1" height="128.8" fill="#ffd200"/>
<g filter="url(#bl)">
<rect x="767.5" y="644.5" width="16.6" height="16.6" fill="#c6c6c6"/>
<rect x="783.5" y="644.5" width="14.6" height="16.6" fill="#c6c6c6"/>
<rect x="797.5" y="644.5" width="14.6" height="16.6" fill="#cacaca"/>
<rect x="811.6" y="644.5" width="14.6" height="16.6" fill="#b4b4b4"/>
<rect x="825.6" y="644.5" width="16.6" height="16.6" fill="#b4b4b4"/>
<rect x="767.5" y="660.5" width="16.6" height="16.7" fill="#c6c6c6"/>
<rect x="783.5" y="660.5" width="14.6" height="16.7" fill="#c6c6c6"/>
<rect x="797.5" y="660.5" width="14.6" height="16.7" fill="#cacaca"/>
<rect x="811.6" y="660.5" width="14.6" height="16.7" fill="#b4b4b4"/>
<rect x="825.6" y="660.5" width="16.6" height="16.7" fill="#b4b4b4"/>
<rect x="767.5" y="676.6" width="16.6" height="16.7" fill="#a1a1a1"/>
<rect x="783.5" y="676.6" width="14.6" height="16.7" fill="#a1a1a1"/>
<rect x="797.5" y="676.6" width="14.6" height="16.7" fill="#9d9d9d"/>
<rect x="811.6" y="676.6" width="14.6" height="16.7" fill="#a1a1a1"/>
<rect x="825.6" y="676.6" width="16.6" height="16.7" fill="#a1a1a1"/>
<rect x="767.5" y="692.7" width="16.6" height="16.7" fill="#f5f5f5"/>
<rect x="783.5" y="692.7" width="14.6" height="16.7" fill="#f5f5f5"/>
<rect x="797.5" y="692.7" width="14.6" height="16.7" fill="#f5f5f5"/>
<rect x="811.6" y="692.7" width="14.6" height="16.7" fill="#bcbcbc"/>
<rect x="825.6" y="692.7" width="16.6" height="16.7" fill="#bcbcbc"/>
<rect x="767.5" y="708.8" width="16.6" height="16.7" fill="#cccccc"/>
<rect x="783.5" y="708.8" width="14.6" height="16.7" fill="#cccccc"/>
<rect x="797.5" y="708.8" width="14.6" height="16.7" fill="#c2c2c2"/>
<rect x="811.6" y="708.8" width="14.6" height="16.7" fill="#9f9f9f"/>
<rect x="825.6" y="708.8" width="16.6" height="16.7" fill="#9f9f9f"/>
<rect x="767.5" y="724.9" width="16.6" height="16.7" fill="#b8b8b8"/>
<rect x="783.5" y="724.9" width="14.6" height="16.7" fill="#b8b8b8"/>
<rect x="797.5" y="724.9" width="14.6" height="16.7" fill="#afafaf"/>
<rect x="811.6" y="724.9" width="14.6" height="16.7" fill="#979797"/>
<rect x="825.6" y="724.9" width="16.6" height="16.7" fill="#979797"/>
<rect x="767.5" y="741.0" width="16.6" height="16.7" fill="#8f8f8f"/>
<rect x="783.5" y="741.0" width="14.6" height="16.7" fill="#8f8f8f"/>
<rect x="797.5" y="741.0" width="14.6" height="16.7" fill="#878787"/>
<rect x="811.6" y="741.0" width="14.6" height="16.7" fill="#838383"/>
<rect x="825.6" y="741.0" width="16.6" height="16.7" fill="#838383"/>
<rect x="767.5" y="757.1" width="16.6" height="16.7" fill="#767676"/>
<rect x="783.5" y="757.1" width="14.6" height="16.7" fill="#767676"/>
<rect x="797.5" y="757.1" width="14.6" height="16.7" fill="#6e6e6e"/>
<rect x="811.6" y="757.1" width="14.6" height="16.7" fill="#6e6e6e"/>
<rect x="825.6" y="757.1" width="16.6" height="16.7" fill="#6e6e6e"/>
<rect x="767.5" y="773.2" width="16.6" height="16.7" fill="#7a7a7a"/>
<rect x="783.5" y="773.2" width="14.6" height="16.7" fill="#7a7a7a"/>
<rect x="797.5" y="773.2" width="14.6" height="16.7" fill="#6e6e6e"/>
<rect x="811.6" y="773.2" width="14.6" height="16.7" fill="#6a6a6a"/>
<rect x="825.6" y="773.2" width="16.6" height="16.7" fill="#6a6a6a"/>
<rect x="767.5" y="789.3" width="16.6" height="16.6" fill="#7a7a7a"/>
<rect x="783.5" y="789.3" width="14.6" height="16.6" fill="#7a7a7a"/>
<rect x="797.5" y="789.3" width="14.6" height="16.6" fill="#6e6e6e"/>
<rect x="811.6" y="789.3" width="14.6" height="16.6" fill="#6a6a6a"/>
<rect x="825.6" y="789.3" width="16.6" height="16.6" fill="#6a6a6a"/>
</g></g>
<clipPath id="c20"><rect x="830.2" y="692.7" width="42.7" height="112.8"/></clipPath>
<g clip-path="url(#c20)">
<rect x="830.2" y="692.7" width="42.7" height="112.8" fill="#1bff00"/>
<g filter="url(#bl)">
<rect x="813.9" y="676.4" width="16.6" height="16.6" fill="#a7a7a7"/>
<rect x="829.9" y="676.4" width="14.8" height="16.6" fill="#a7a7a7"/>
<rect x="844.1" y="676.4" width="14.8" height="16.6" fill="#979797"/>
<rect x="858.4" y="676.4" width="14.8" height="16.6" fill="#838383"/>
<rect x="872.6" y="676.4" width="16.6" height="16.6" fill="#838383"/>
<rect x="813.9" y="692.4" width="16.6" height="16.7" fill="#a7a7a7"/>
<rect x="829.9" y="692.4" width="14.8" height="16.7" fill="#a7a7a7"/>
<rect x="844.1" y="692.4" width="14.8" height="16.7" fill="#979797"/>
<rect x="858.4" y="692.4" width="14.8" height="16.7" fill="#838383"/>
<rect x="872.6" y="692.4" width="16.6" height="16.7" fill="#838383"/>
<rect x="813.9" y="708.5" width="16.6" height="16.7" fill="#878787"/>
<rect x="829.9" y="708.5" width="14.8" height="16.7" fill="#878787"/>
<rect x="844.1" y="708.5" width="14.8" height="16.7" fill="#7e7e7e"/>
<rect x="858.4" y="708.5" width="14.8" height="16.7" fill="#727272"/>
<rect x="872.6" y="708.5" width="16.6" height="16.7" fill="#727272"/>
<rect x="813.9" y="724.6" width="16.6" height="16.7" fill="#7a7a7a"/>
<rect x="829.9" y="724.6" width="14.8" height="16.7" fill="#7a7a7a"/>
<rect x="844.1" y="724.6" width="14.8" height="16.7" fill="#767676"/>
<rect x="858.4" y="724.6" width="14.8" height="16.7" fill="#6e6e6e"/>
<rect x="872.6" y="724.6" width="16.6" height="16.7" fill="#6e6e6e"/>
<rect x="813.9" y="740.7" width="16.6" height="16.7" fill="#626262"/>
<rect x="829.9" y="740.7" width="14.8" height="16.7" fill="#626262"/>
<rect x="844.1" y="740.7" width="14.8" height="16.7" fill="#525252"/>
<rect x="858.4" y="740.7" width="14.8" height="16.7" fill="#393939"/>
<rect x="872.6" y="740.7" width="16.6" height="16.7" fill="#393939"/>
<rect x="813.9" y="756.9" width="16.6" height="16.7" fill="#626262"/>
<rect x="829.9" y="756.9" width="14.8" height="16.7" fill="#626262"/>
<rect x="844.1" y="756.9" width="14.8" height="16.7" fill="#565656"/>
<rect x="858.4" y="756.9" width="14.8" height="16.7" fill="#454545"/>
<rect x="872.6" y="756.9" width="16.6" height="16.7" fill="#454545"/>
<rect x="813.9" y="773.0" width="16.6" height="16.7" fill="#6a6a6a"/>
<rect x="829.9" y="773.0" width="14.8" height="16.7" fill="#6a6a6a"/>
<rect x="844.1" y="773.0" width="14.8" height="16.7" fill="#666666"/>
<rect x="858.4" y="773.0" width="14.8" height="16.7" fill="#626262"/>
<rect x="872.6" y="773.0" width="16.6" height="16.7" fill="#626262"/>
<rect x="813.9" y="789.1" width="16.6" height="16.7" fill="#626262"/>
<rect x="829.9" y="789.1" width="14.8" height="16.7" fill="#626262"/>
<rect x="844.1" y="789.1" width="14.8" height="16.7" fill="#5e5e5e"/>
<rect x="858.4" y="789.1" width="14.8" height="16.7" fill="#5e5e5e"/>
<rect x="872.6" y="789.1" width="16.6" height="16.7" fill="#5e5e5e"/>
<rect x="813.9" y="805.2" width="16.6" height="16.6" fill="#626262"/>
<rect x="829.9" y="805.2" width="14.8" height="16.6" fill="#626262"/>
<rect x="844.1" y="805.2" width="14.8" height="16.6" fill="#5e5e5e"/>
<rect x="858.4" y="805.2" width="14.8" height="16.6" fill="#5e5e5e"/>
<rect x="872.6" y="805.2" width="16.6" height="16.6" fill="#5e5e5e"/>
</g></g>
<clipPath id="c21"><rect x="876.2" y="692.7" width="42.8" height="130.8"/></clipPath>
<g clip-path="url(#c21)">
<rect x="876.2" y="692.7" width="42.8" height="130.8" fill="#05ff00"/>
<g filter="url(#bl)">
<rect x="859.9" y="676.4" width="16.6" height="16.6" fill="#6e6e6e"/>
<rect x="875.9" y="676.4" width="14.9" height="16.6" fill="#6e6e6e"/>
<rect x="890.2" y="676.4" width="14.9" height="16.6" fill="#6a6a6a"/>
<rect x="904.4" y="676.4" width="14.9" height="16.6" fill="#6a6a6a"/>
<rect x="918.7" y="676.4" width="16.6" height="16.6" fill="#6a6a6a"/>
<rect x="859.9" y="692.4" width="16.6" height="17.0" fill="#6e6e6e"/>
<rect x="875.9" y="692.4" width="14.9" height="17.0" fill="#6e6e6e"/>
<rect x="890.2" y="692.4" width="14.9" height="17.0" fill="#6a6a6a"/>
<rect x="904.4" y="692.4" width="14.9" height="17.0" fill="#6a6a6a"/>
<rect x="918.7" y="692.4" width="16.6" height="17.0" fill="#6a6a6a"/>
<rect x="859.9" y="708.8" width="16.6" height="17.0" fill="#666666"/>
<rect x="875.9" y="708.8" width="14.9" height="17.0" fill="#666666"/>
<rect x="890.2" y="708.8" width="14.9" height="17.0" fill="#666666"/>
<rect x="904.4" y="708.8" width="14.9" height="17.0" fill="#6e6e6e"/>
<rect x="918.7" y="708.8" width="16.6" height="17.0" fill="#6e6e6e"/>
<rect x="859.9" y="725.1" width="16.6" height="16.9" fill="#666666"/>
<rect x="875.9" y="725.1" width="14.9" height="16.9" fill="#666666"/>
<rect x="890.2" y="725.1" width="14.9" height="16.9" fill="#6a6a6a"/>
<rect x="904.4" y="725.1" width="14.9" height="16.9" fill="#767676"/>
<rect x="918.7" y="725.1" width="16.6" height="16.9" fill="#767676"/>
<rect x="859.9" y="741.5" width="16.6" height="17.0" fill="#393939"/>
<rect x="875.9" y="741.5" width="14.9" height="17.0" fill="#393939"/>
<rect x="890.2" y="741.5" width="14.9" height="17.0" fill="#494949"/>
<rect x="904.4" y="741.5" width="14.9" height="17.0" fill="#626262"/>
<rect x="918.7" y="741.5" width="16.6" height="17.0" fill="#626262"/>
<rect x="859.9" y="757.8" width="16.6" height="17.0" fill="#454545"/>
<rect x="875.9" y="757.8" width="14.9" height="17.0" fill="#454545"/>
<rect x="890.2" y="757.8" width="14.9" height="17.0" fill="#565656"/>
<rect x="904.4" y="757.8" width="14.9" height="17.0" fill="#6a6a6a"/>
<rect x="918.7" y="757.8" width="16.6" height="17.0" fill="#6a6a6a"/>
<rect x="859.9" y="774.2" width="16.6" height="16.9" fill="#6e6e6e"/>
<rect x="875.9" y="774.2" width="14.9" height="16.9" fill="#6e6e6e"/>
<rect x="890.2" y="774.2" width="14.9" height="16.9" fill="#767676"/>
<rect x="904.4" y="774.2" width="14.9" height="16.9" fill="#7a7a7a"/>
<rect x="918.7" y="774.2" width="16.6" height="16.9" fill="#7a7a7a"/>
<rect x="859.9" y="790.5" width="16.6" height="17.0" fill="#666666"/>
<rect x="875.9" y="790.5" width="14.9" height="17.0" fill="#666666"/>
<rect x="890.2" y="790.5" width="14.9" height="17.0" fill="#626262"/>
<rect x="904.4" y="790.5" width="14.9" height="17.0" fill="#626262"/>
<rect x="918.7" y="790.5" width="16.6" height="17.0" fill="#626262"/>
<rect x="859.9" y="806.9" width="16.6" height="17.0" fill="#7a7a7a"/>
<rect x="875.9" y="806.9" width="14.9" height="17.0" fill="#7a7a7a"/>
<rect x="890.2" y="806.9" width="14.9" height="17.0" fill="#7e7e7e"/>
<rect x="904.4" y="806.9" width="14.9" height="17.0" fill="#7a7a7a"/>
<rect x="918.7" y="806.9" width="16.6" height="17.0" fill="#7a7a7a"/>
<rect x="859.9" y="823.2" width="16.6" height="16.6" fill="#7a7a7a"/>
<rect x="875.9" y="823.2" width="14.9" height="16.6" fill="#7a7a7a"/>
<rect x="890.2" y="823.2" width="14.9" height="16.6" fill="#7e7e7e"/>
<rect x="904.4" y="823.2" width="14.9" height="16.6" fill="#7a7a7a"/>
<rect x="918.7" y="823.2" width="16.6" height="16.6" fill="#7a7a7a"/>
</g></g>
<clipPath id="c22"><rect x="922.6" y="692.7" width="40.7" height="130.8"/></clipPath>
<g clip-path="url(#c22)">
<rect x="922.6" y="692.7" width="40.7" height="130.8" fill="#45ff00"/>
<g filter="url(#bl)">
<rect x="906.3" y="676.4" width="16.6" height="16.6" fill="#6e6e6e"/>
<rect x="922.3" y="676.4" width="14.2" height="16.6" fill="#6e6e6e"/>
<rect x="935.9" y="676.4" width="14.2" height="16.6" fill="#727272"/>
<rect x="949.4" y="676.4" width="14.2" height="16.6" fill="#7e7e7e"/>
<rect x="963.0" y="676.4" width="16.6" height="16.6" fill="#7e7e7e"/>
<rect x="906.3" y="692.4" width="16.6" height="17.0" fill="#6e6e6e"/>
<rect x="922.3" y="692.4" width="14.2" height="17.0" fill="#6e6e6e"/>
<rect x="935.9" y="692.4" width="14.2" height="17.0" fill="#727272"/>
<rect x="949.4" y="692.4" width="14.2" height="17.0" fill="#7e7e7e"/>
<rect x="963.0" y="692.4" width="16.6" height="17.0" fill="#7e7e7e"/>
<rect x="906.3" y="708.8" width="16.6" height="17.0" fill="#727272"/>
<rect x="922.3" y="708.8" width="14.2" height="17.0" fill="#727272"/>
<rect x="935.9" y="708.8" width="14.2" height="17.0" fill="#7e7e7e"/>
<rect x="949.4" y="708.8" width="14.2" height="17.0" fill="#8b8b8b"/>
<rect x="963.0" y="708.8" width="16.6" height="17.0" fill="#8b8b8b"/>
<rect x="906.3" y="725.1" width="16.6" height="16.9" fill="#7e7e7e"/>
<rect x="922.3" y="725.1" width="14.2" height="16.9" fill="#7e7e7e"/>
<rect x="935.9" y="725.1" width="14.2" height="16.9" fill="#939393"/>
<rect x="949.4" y="725.1" width="14.2" height="16.9" fill="#979797"/>
<rect x="963.0" y="725.1" width="16.6" height="16.9" fill="#979797"/>
<rect x="906.3" y="741.5" width="16.6" height="17.0" fill="#767676"/>
<rect x="922.3" y="741.5" width="14.2" height="17.0" fill="#767676"/>
<rect x="935.9" y="741.5" width="14.2" height="17.0" fill="#7e7e7e"/>
<rect x="949.4" y="741.5" width="14.2" height="17.0" fill="#878787"/>
<rect x="963.0" y="741.5" width="16.6" height="17.0" fill="#878787"/>
<rect x="906.3" y="757.8" width="16.6" height="17.0" fill="#6a6a6a"/>
<rect x="922.3" y="757.8" width="14.2" height="17.0" fill="#6a6a6a"/>
<rect x="935.9" y="757.8" width="14.2" height="17.0" fill="#6e6e6e"/>
<rect x="949.4" y="757.8" width="14.2" height="17.0" fill="#727272"/>
<rect x="963.0" y="757.8" width="16.6" height="17.0" fill="#727272"/>
<rect x="906.3" y="774.2" width="16.6" height="16.9" fill="#666666"/>
<rect x="922.3" y="774.2" width="14.2" height="16.9" fill="#666666"/>
<rect x="935.9" y="774.2" width="14.2" height="16.9" fill="#6a6a6a"/>
<rect x="949.4" y="774.2" width="14.2" height="16.9" fill="#6e6e6e"/>
<rect x="963.0" y="774.2" width="16.6" height="16.9" fill="#6e6e6e"/>
<rect x="906.3" y="790.5" width="16.6" height="17.0" fill="#6a6a6a"/>
<rect x="922.3" y="790.5" width="14.2" height="17.0" fill="#6a6a6a"/>
<rect x="935.9" y="790.5" width="14.2" height="17.0" fill="#666666"/>
<rect x="949.4" y="790.5" width="14.2" height="17.0" fill="#5e5e5e"/>
<rect x="963.0" y="790.5" width="16.6" height="17.0" fill="#5e5e5e"/>
<rect x="906.3" y="806.9" width="16.6" height="17.0" fill="#727272"/>
<rect x="922.3" y="806.9" width="14.2" height="17.0" fill="#727272"/>
<rect x="935.9" y="806.9" width="14.2" height="17.0" fill="#666666"/>
<rect x="949.4" y="806.9" width="14.2" height="17.0" fill="#4e4e4e"/>
<rect x="963.0" y="806.9" width="16.6" height="17.0" fill="#4e4e4e"/>
<rect x="906.3" y="823.2" width="16.6" height="16.6" fill="#727272"/>
<rect x="922.3" y="823.2" width="14.2" height="16.6" fill="#727272"/>
<rect x="935.9" y="823.2" width="14.2" height="16.6" fill="#666666"/>
<rect x="949.4" y="823.2" width="14.2" height="16.6" fill="#4e4e4e"/>
<rect x="963.0" y="823.2" width="16.6" height="16.6" fill="#4e4e4e"/>
</g></g>
<clipPath id="c23"><rect x="966.6" y="692.7" width="43.6" height="112.8"/></clipPath>
<g clip-path="url(#c23)">
<rect x="966.6" y="692.7" width="43.6" height="112.8" fill="#a3ff00"/>
<g filter="url(#bl)">
<rect x="950.3" y="676.4" width="16.6" height="16.6" fill="#8f8f8f"/>
<rect x="966.3" y="676.4" width="15.1" height="16.6" fill="#8f8f8f"/>
<rect x="980.8" y="676.4" width="15.1" height="16.6" fill="#9f9f9f"/>
<rect x="995.4" y="676.4" width="15.1" height="16.6" fill="#cccccc"/>
<rect x="1009.9" y="676.4" width="16.6" height="16.6" fill="#cccccc"/>
<rect x="950.3" y="692.4" width="16.6" height="16.7" fill="#8f8f8f"/>
<rect x="966.3" y="692.4" width="15.1" height="16.7" fill="#8f8f8f"/>
<rect x="980.8" y="692.4" width="15.1" height="16.7" fill="#9f9f9f"/>
<rect x="995.4" y="692.4" width="15.1" height="16.7" fill="#cccccc"/>
<rect x="1009.9" y="692.4" width="16.6" height="16.7" fill="#cccccc"/>
<rect x="950.3" y="708.5" width="16.6" height="16.7" fill="#939393"/>
<rect x="966.3" y="708.5" width="15.1" height="16.7" fill="#939393"/>
<rect x="980.8" y="708.5" width="15.1" height="16.7" fill="#9f9f9f"/>
<rect x="995.4" y="708.5" width="15.1" height="16.7" fill="#c6c6c6"/>
<rect x="1009.9" y="708.5" width="16.6" height="16.7" fill="#c6c6c6"/>
<rect x="950.3" y="724.6" width="16.6" height="16.7" fill="#979797"/>
<rect x="966.3" y="724.6" width="15.1" height="16.7" fill="#979797"/>
<rect x="980.8" y="724.6" width="15.1" height="16.7" fill="#9b9b9b"/>
<rect x="995.4" y="724.6" width="15.1" height="16.7" fill="#afafaf"/>
<rect x="1009.9" y="724.6" width="16.6" height="16.7" fill="#afafaf"/>
<rect x="950.3" y="740.7" width="16.6" height="16.7" fill="#878787"/>
<rect x="966.3" y="740.7" width="15.1" height="16.7" fill="#878787"/>
<rect x="980.8" y="740.7" width="15.1" height="16.7" fill="#939393"/>
<rect x="995.4" y="740.7" width="15.1" height="16.7" fill="#b4b4b4"/>
<rect x="1009.9" y="740.7" width="16.6" height="16.7" fill="#b4b4b4"/>
<rect x="950.3" y="756.9" width="16.6" height="16.7" fill="#6e6e6e"/>
<rect x="966.3" y="756.9" width="15.1" height="16.7" fill="#6e6e6e"/>
<rect x="980.8" y="756.9" width="15.1" height="16.7" fill="#6a6a6a"/>
<rect x="995.4" y="756.9" width="15.1" height="16.7" fill="#7e7e7e"/>
<rect x="1009.9" y="756.9" width="16.6" height="16.7" fill="#7e7e7e"/>
<rect x="950.3" y="773.0" width="16.6" height="16.7" fill="#5e5e5e"/>
<rect x="966.3" y="773.0" width="15.1" height="16.7" fill="#5e5e5e"/>
<rect x="980.8" y="773.0" width="15.1" height="16.7" fill="#4e4e4e"/>
<rect x="995.4" y="773.0" width="15.1" height="16.7" fill="#565656"/>
<rect x="1009.9" y="773.0" width="16.6" height="16.7" fill="#565656"/>
<rect x="950.3" y="789.1" width="16.6" height="16.7" fill="#626262"/>
<rect x="966.3" y="789.1" width="15.1" height="16.7" fill="#626262"/>
<rect x="980.8" y="789.1" width="15.1" height="16.7" fill="#5a5a5a"/>
<rect x="995.4" y="789.1" width="15.1" height="16.7" fill="#565656"/>
<rect x="1009.9" y="789.1" width="16.6" height="16.7" fill="#565656"/>
<rect x="950.3" y="805.2" width="16.6" height="16.6" fill="#626262"/>
<rect x="966.3" y="805.2" width="15.1" height="16.6" fill="#626262"/>
<rect x="980.8" y="805.2" width="15.1" height="16.6" fill="#5a5a5a"/>
<rect x="995.4" y="805.2" width="15.1" height="16.6" fill="#565656"/>
<rect x="1009.9" y="805.2" width="16.6" height="16.6" fill="#565656"/>
</g></g>
<clipPath id="c24"><rect x="1014.9" y="660.8" width="42.6" height="128.8"/></clipPath>
<g clip-path="url(#c24)">
<rect x="1014.9" y="660.8" width="42.6" height="128.8" fill="#ff2d00"/>
<g filter="url(#bl)">
<rect x="998.6" y="644.5" width="16.6" height="16.6" fill="#c8c8c8"/>
<rect x="1014.6" y="644.5" width="14.8" height="16.6" fill="#c8c8c8"/>
<rect x="1028.8" y="644.5" width="14.8" height="16.6" fill="#cccccc"/>
<rect x="1043.0" y="644.5" width="14.8" height="16.6" fill="#c8c8c8"/>
<rect x="1057.2" y="644.5" width="16.6" height="16.6" fill="#c8c8c8"/>
<rect x="998.6" y="660.5" width="16.6" height="16.7" fill="#c8c8c8"/>
<rect x="1014.6" y="660.5" width="14.8" height="16.7" fill="#c8c8c8"/>
<rect x="1028.8" y="660.5" width="14.8" height="16.7" fill="#cccccc"/>
<rect x="1043.0" y="660.5" width="14.8" height="16.7" fill="#c8c8c8"/>
<rect x="1057.2" y="660.5" width="16.6" height="16.7" fill="#c8c8c8"/>
<rect x="998.6" y="676.6" width="16.6" height="16.7" fill="#a7a7a7"/>
<rect x="1014.6" y="676.6" width="14.8" height="16.7" fill="#a7a7a7"/>
<rect x="1028.8" y="676.6" width="14.8" height="16.7" fill="#a7a7a7"/>
<rect x="1043.0" y="676.6" width="14.8" height="16.7" fill="#ababab"/>
<rect x="1057.2" y="676.6" width="16.6" height="16.7" fill="#ababab"/>
<rect x="998.6" y="692.7" width="16.6" height="16.7" fill="#ffffff"/>
<rect x="1014.6" y="692.7" width="14.8" height="16.7" fill="#ffffff"/>
<rect x="1028.8" y="692.7" width="14.8" height="16.7" fill="#ffffff"/>
<rect x="1043.0" y="692.7" width="14.8" height="16.7" fill="#ffffff"/>
<rect x="1057.2" y="692.7" width="16.6" height="16.7" fill="#ffffff"/>
<rect x="998.6" y="708.8" width="16.6" height="16.7" fill="#ebebeb"/>
<rect x="1014.6" y="708.8" width="14.8" height="16.7" fill="#ebebeb"/>
<rect x="1028.8" y="708.8" width="14.8" height="16.7" fill="#e0e0e0"/>
<rect x="1043.0" y="708.8" width="14.8" height="16.7" fill="#ebebeb"/>
<rect x="1057.2" y="708.8" width="16.6" height="16.7" fill="#ebebeb"/>
<rect x="998.6" y="724.9" width="16.6" height="16.7" fill="#cccccc"/>
<rect x="1014.6" y="724.9" width="14.8" height="16.7" fill="#cccccc"/>
<rect x="1028.8" y="724.9" width="14.8" height="16.7" fill="#b4b4b4"/>
<rect x="1043.0" y="724.9" width="14.8" height="16.7" fill="#bcbcbc"/>
<rect x="1057.2" y="724.9" width="16.6" height="16.7" fill="#bcbcbc"/>
<rect x="998.6" y="741.0" width="16.6" height="16.7" fill="#ffffff"/>
<rect x="1014.6" y="741.0" width="14.8" height="16.7" fill="#ffffff"/>
<rect x="1028.8" y="741.0" width="14.8" height="16.7" fill="#ffffff"/>
<rect x="1043.0" y="741.0" width="14.8" height="16.7" fill="#ffffff"/>
<rect x="1057.2" y="741.0" width="16.6" height="16.7" fill="#ffffff"/>
<rect x="998.6" y="757.1" width="16.6" height="16.7" fill="#8f8f8f"/>
<rect x="1014.6" y="757.1" width="14.8" height="16.7" fill="#8f8f8f"/>
<rect x="1028.8" y="757.1" width="14.8" height="16.7" fill="#979797"/>
<rect x="1043.0" y="757.1" width="14.8" height="16.7" fill="#a3a3a3"/>
<rect x="1057.2" y="757.1" width="16.6" height="16.7" fill="#a3a3a3"/>
<rect x="998.6" y="773.2" width="16.6" height="16.7" fill="#666666"/>
<rect x="1014.6" y="773.2" width="14.8" height="16.7" fill="#666666"/>
<rect x="1028.8" y="773.2" width="14.8" height="16.7" fill="#6a6a6a"/>
<rect x="1043.0" y="773.2" width="14.8" height="16.7" fill="#6e6e6e"/>
<rect x="1057.2" y="773.2" width="16.6" height="16.7" fill="#6e6e6e"/>
<rect x="998.6" y="789.3" width="16.6" height="16.6" fill="#666666"/>
<rect x="1014.6" y="789.3" width="14.8" height="16.6" fill="#666666"/>
<rect x="1028.8" y="789.3" width="14.8" height="16.6" fill="#6a6a6a"/>
<rect x="1043.0" y="789.3" width="14.8" height="16.6" fill="#6e6e6e"/>
<rect x="1057.2" y="789.3" width="16.6" height="16.6" fill="#6e6e6e"/>
</g></g>
<rect x="780.0" y="692.05" width="279.0" height="1.30" fill="#222"/>
<rect x="780.0" y="740.25" width="279.0" height="1.30" fill="#222"/>
<rect x="780.0" y="788.95" width="279.0" height="1.30" fill="#222"/>
<rect x="827.0" y="805.20" width="184.5" height="2.40" fill="#111"/>
<rect x="779.95" y="662.0" width="1.30" height="128.0" fill="#1a1a1a"/>
<rect x="826.85" y="693.0" width="1.50" height="113.0" fill="#1a1a1a"/>
<rect x="873.65" y="693.0" width="1.50" height="130.0" fill="#1a1a1a"/>
<rect x="919.85" y="693.0" width="1.50" height="130.0" fill="#1a1a1a"/>
<rect x="963.85" y="693.0" width="1.50" height="130.0" fill="#1a1a1a"/>
<rect x="1011.15" y="693.0" width="1.50" height="113.0" fill="#1a1a1a"/>
<rect x="1057.95" y="662.0" width="1.30" height="161.0" fill="#1a1a1a"/>
<rect x="777.3" y="659.3" width="52.3" height="51.9" fill="none" stroke="#fff" stroke-opacity="0.45" stroke-width="2.6" stroke-linecap="round" stroke-dasharray="0 6.7" stroke-dashoffset="3.35"/>
<rect x="777.3" y="659.3" width="52.3" height="51.9" fill="none" stroke="#080808" stroke-width="3.4" stroke-linecap="round" stroke-dasharray="0 6.7"/>
<rect x="1008.6" y="657.6" width="50.8" height="35.5" fill="none" stroke="#fff" stroke-opacity="0.45" stroke-width="2.6" stroke-linecap="round" stroke-dasharray="0 6.7" stroke-dashoffset="3.35"/>
<rect x="1008.6" y="657.6" width="50.8" height="35.5" fill="none" stroke="#080808" stroke-width="3.4" stroke-linecap="round" stroke-dasharray="0 6.7"/>
<text class="lab" x="785.3" y="651.5">ROI</text>
<text class="lab" x="1019.5" y="651.5">ROI</text>
<text class="lab" x="948.0" y="653.0" textLength="21.5" lengthAdjust="spacingAndGlyphs">Cz</text>
<line x1="949.9" y1="660.8" x2="920.6" y2="709.0" stroke="#0a0a0a" stroke-width="1.5"/>
<circle cx="920.6" cy="709.0" r="4.4" fill="#050505"/>
<text class="star" x="1034.3" y="713.0">*</text>
<text class="star" x="1036.0" y="744.6">*</text>
</g>
<text class="ser" x="319" y="44.4" font-size="41.5" font-weight="bold" textLength="83" lengthAdjust="spacingAndGlyphs">APR</text>
<text class="ser" x="919.3" y="54.4" font-size="37.5" font-weight="bold" font-style="italic" text-anchor="middle">ΔOxyHb</text>
<text class="ser" x="48.4" y="292.3" font-size="35.3" textLength="91.6" lengthAdjust="spacingAndGlyphs">Bite L</text>
<text class="ser" x="48.9" y="722.3" font-size="35.3" textLength="94.3" lengthAdjust="spacingAndGlyphs">Bite R</text>
<rect x="590" y="552" width="20.7" height="341.8" fill="url(#gbar)"/>
<rect x="1158.7" y="552" width="18" height="341.8" fill="url(#gbar)"/>
<text class="ser" x="625.6" y="561.1" font-size="30.4">100</text>
<text class="ser" x="626.0" y="722.1" font-size="30.4">50</text>
<text class="ser" x="626.6" y="895.1" font-size="30.4">0</text>
<text class="ser" x="1192.4" y="561.0" font-size="30.4">0.15</text>
<text class="ser" x="1192.4" y="722.1" font-size="30.4">0.00</text>
<text class="ser" x="1194.5" y="895.1" font-size="30.4">-0.15</text>
<g transform="translate(568.6 877.2) rotate(-90)" font-size="30">
<text class="ser" x="0" y="0">Activity phase ratio</text>
<text class="ser" x="227.4" y="0" font-family="Liberation Serif,Noto Serif CJK SC,serif">（</text>
<text class="ser" x="254.0" y="0" textLength="30.5" lengthAdjust="spacingAndGlyphs">%</text>
<text class="ser" x="281.8" y="0" font-family="Liberation Serif,Noto Serif CJK SC,serif">）</text>
</g>
<g transform="translate(1145.6 890.8) rotate(-90)" font-size="30">
<text class="ser" x="0" y="0" font-size="30.6">Changes in <tspan font-style="italic">ΔOxyHb</tspan></text>
<text class="ser" x="234.3" y="0" font-family="Liberation Serif,Noto Serif CJK SC,serif">（</text>
<text class="ser" x="268.5" y="0">a.u.</text>
<text class="ser" x="309.5" y="0" font-family="Liberation Serif,Noto Serif CJK SC,serif">）</text>
</g>
</svg>
</body></html>
